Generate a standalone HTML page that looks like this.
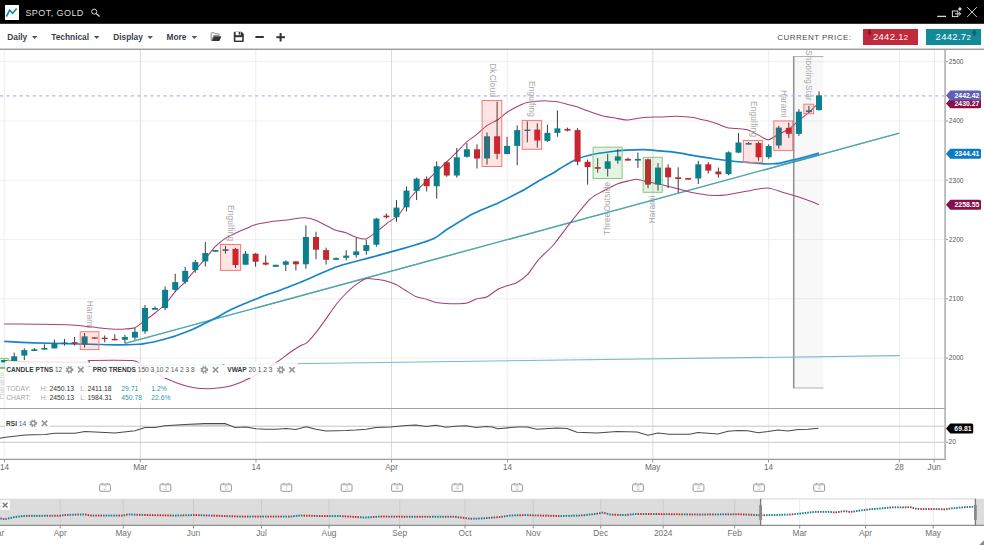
<!DOCTYPE html>
<html lang="en"><head><meta charset="utf-8"><title>SPOT, GOLD</title>
<style>
html,body{margin:0;padding:0;background:#fff}
body{width:984px;height:545px;position:relative;overflow:hidden;font-family:"Liberation Sans",sans-serif}
#tb{position:absolute;left:0;top:0;width:984px;height:23px;background:#000}
#tb .ico{position:absolute;left:4.5px;top:5px;width:14.5px;height:14.5px;background:#fff}
#tb .ttl{position:absolute;left:25.4px;top:6.9px;font-size:9px;line-height:12px;color:#dedede;letter-spacing:.44px;white-space:nowrap}
#bar{position:absolute;left:0;top:23.6px;width:984px;height:26.2px;background:#fff;box-sizing:border-box}
.m{position:absolute;top:31.35px;font-size:8.35px;line-height:12px;font-weight:bold;color:#3b3e52;white-space:nowrap}
.cp{position:absolute;left:777.3px;top:31.6px;font-size:8px;line-height:12px;letter-spacing:.45px;color:#4a4a4a;white-space:nowrap}
.pb{position:absolute;top:28.9px;height:15.7px;color:#fff;font-size:9.5px;line-height:15.8px;letter-spacing:.3px;white-space:nowrap}
.pb small{font-size:7.6px}
</style></head><body>
<svg width="984" height="26" viewBox="0 0 984 26" style="position:absolute;left:0;top:0"><rect x="0" y="0" width="984" height="23.8" fill="#000"/></svg>
<div id="tb"><div class="ico"></div><div class="ttl">SPOT, GOLD</div></div>
<div id="bar"></div>
<div class="m" style="left:7.3px">Daily</div>
<div class="m" style="left:51.2px">Technical</div>
<div class="m" style="left:113.2px">Display</div>
<div class="m" style="left:166.5px">More</div>
<div class="cp">CURRENT PRICE:</div>
<div class="pb" style="left:863.2px;width:54.8px;background:#c12a3c"><span style="position:absolute;left:9.7px">2442.1<small>2</small></span></div>
<div class="pb" style="left:925.9px;width:55px;background:#138a99"><span style="position:absolute;left:9.7px">2442.7<small>2</small></span></div>
<svg width="984" height="50" viewBox="0 0 984 50" style="position:absolute;left:0;top:0">
<rect x="0" y="48.6" width="984" height="1.25" fill="#8e8e8e"/>
<path d="M31.9 36h5.6l-2.8 3.1zM93.9 36h5.6l-2.8 3.1zM147.4 36h5.6l-2.8 3.1zM191.6 36h5.6l-2.8 3.1z" fill="#555"/>
<path d="M6 7.6H17.6M6 9.6H17.6M6 11.6H17.6M6 14.6H17.6M6 17.2H17.6" stroke="#ececec" stroke-width=".6"/><path d="M6.4 16.7L9.6 10.2L12.6 13.2L16.7 8.4" fill="none" stroke="#138a99" stroke-width="1.6"/>
<circle cx="94.2" cy="11.6" r="2.5" fill="none" stroke="#d6d6d6" stroke-width="1"/><path d="M96.1 13.6L99.6 16.6" stroke="#d6d6d6" stroke-width="1.3"/>
<path d="M937.2 16.4H946" stroke="#d8d8d8" stroke-width="1.3"/>
<rect x="952.4" y="11" width="5.4" height="5.6" fill="none" stroke="#d8d8d8" stroke-width="1"/><path d="M955 13.8H960.6M959 12.2L960.8 13.8L959 15.4" fill="none" stroke="#d8d8d8" stroke-width="1"/><path d="M959.9 6.6L960.7 8.3L962.4 9L960.7 9.7L959.9 11.4L959.1 9.7L957.4 9L959.1 8.3Z" fill="#e4e4e4"/>
<path d="M967.2 7.2L976.8 17M976.8 7.2L967.2 17" stroke="#d0d0d0" stroke-width="1"/>
<g fill="#333">
<path d="M211.2 40.6V33.4Q211.2 32.7 211.9 32.7H214.2L215.2 33.8H218.6Q219.2 33.8 219.2 34.5V35.4H213.6L211.9 40.2Z" fill="none" stroke="#7c7c7c" stroke-width=".85"/>
<path d="M213.9 36.2H221.4L219.4 41H211.9Z"/>
<path d="M233.8 32.6Q233.8 31.8 234.6 31.8H241.6L243.8 34V41.2Q243.8 42 243 42H234.6Q233.8 42 233.8 41.2Z"/>
<rect x="235.4" y="37.2" width="6.8" height="3.4" fill="#fff"/><rect x="235.6" y="32" width="5.2" height="3.2" fill="#fff"/><rect x="238.7" y="32" width="1.6" height="2.6" fill="#333"/>
<rect x="255.4" y="36" width="8.4" height="2"/>
<rect x="276.4" y="36.2" width="8.5" height="2"/><rect x="279.6" y="33" width="2" height="8.5"/>
</g>
<path d="M868.3 29.4h2.4v3h1.4l-2.6 3l-2.6-3h1.4z" fill="#8d1626"/>
<path d="M974.4 29.8l2.6 3h-1.4v3h-2.4v-3h-1.4z" fill="#0b5f6b"/>
</svg>
<svg id="chart" width="984" height="545" viewBox="0 0 984 545" style="position:absolute;left:0;top:0" font-family="'Liberation Sans', sans-serif">
<line x1="0" x2="944" y1="61.7" y2="61.7" stroke="#efefef" stroke-width="1"/>
<line x1="0" x2="944" y1="121.0" y2="121.0" stroke="#efefef" stroke-width="1"/>
<line x1="0" x2="944" y1="180.2" y2="180.2" stroke="#efefef" stroke-width="1"/>
<line x1="0" x2="944" y1="239.6" y2="239.6" stroke="#efefef" stroke-width="1"/>
<line x1="0" x2="944" y1="298.8" y2="298.8" stroke="#efefef" stroke-width="1"/>
<line x1="0" x2="944" y1="358.0" y2="358.0" stroke="#efefef" stroke-width="1"/>
<line x1="4.2" x2="4.2" y1="50" y2="459" stroke="#ededed" stroke-width="1"/>
<line x1="140.4" x2="140.4" y1="50" y2="459" stroke="#dbdbdb" stroke-width="1"/>
<line x1="255.8" x2="255.8" y1="50" y2="459" stroke="#ededed" stroke-width="1"/>
<line x1="391.5" x2="391.5" y1="50" y2="459" stroke="#dbdbdb" stroke-width="1"/>
<line x1="507.2" x2="507.2" y1="50" y2="459" stroke="#ededed" stroke-width="1"/>
<line x1="652.9" x2="652.9" y1="50" y2="459" stroke="#dbdbdb" stroke-width="1"/>
<line x1="768.7" x2="768.7" y1="50" y2="459" stroke="#ededed" stroke-width="1"/>
<line x1="899.5" x2="899.5" y1="50" y2="459" stroke="#ededed" stroke-width="1"/>
<line x1="934.4" x2="934.4" y1="50" y2="459" stroke="#e6e6e6" stroke-width="1"/>
<line x1="0" x2="944" y1="426.2" y2="426.2" stroke="#c8c8c8"/>
<line x1="0" x2="944" y1="442.3" y2="442.3" stroke="#c8c8c8"/>
<rect x="794" y="56.5" width="29.5" height="331.5" fill="#000" fill-opacity="0.028"/>
<path d="M823.5 56.5H794.2V388H823.5" fill="none" stroke="#b2b2b2" stroke-width="1"/>
<line x1="793.5" x2="793.5" y1="56" y2="388.5" stroke="#959595" stroke-width="1.15"/>
<line x1="0" x2="944" y1="95.8" y2="95.8" stroke="#b7b4e2" stroke-width="1.3" stroke-dasharray="3.1 3.44"/>
<line x1="0" x2="899.5" y1="367.6" y2="355.6" stroke="#74bccb" stroke-width="1.1"/>
<line x1="125.2" y1="343.4" x2="899.4" y2="133.1" stroke="#178a90" stroke-width="1.4"/>
<line x1="125.2" y1="343.4" x2="899.4" y2="133.1" stroke="#fff" stroke-opacity=".55" stroke-width=".5"/>
<path d="M4.2 323.9C7.4 323.9 26.4 324.1 33.4 324.2C40.4 324.3 61.2 324.5 66.8 324.7C72.4 324.9 79.8 325.5 83.5 325.9C87.2 326.3 96.7 327.7 100.2 328.1C103.7 328.5 112.5 329.1 115.2 329.2C117.9 329.3 122.6 329.2 124.8 329.0C127.0 328.8 132.7 328.7 134.9 327.8C137.1 326.9 142.8 322.1 145.0 320.5C147.2 318.9 152.8 314.8 155.0 313.0C157.2 311.2 162.9 306.9 165.1 304.5C167.3 302.1 172.9 294.3 175.1 291.8C177.3 289.3 182.9 284.2 185.1 281.8C187.3 279.4 192.8 272.7 195.1 270.1C197.4 267.5 203.5 261.0 205.7 258.4C207.9 255.8 213.0 248.9 215.2 246.7C217.4 244.5 222.8 240.0 225.2 238.4C227.6 236.8 234.5 233.6 236.9 232.5C239.3 231.4 245.0 229.1 246.9 228.3C248.8 227.5 251.6 225.7 254.4 225.0C257.2 224.3 268.1 222.2 271.7 221.6C275.3 221.0 283.0 220.3 286.7 219.9C290.4 219.5 301.7 217.7 305.0 217.8C308.3 217.9 313.5 219.4 316.8 220.8C320.1 222.2 331.9 228.7 335.1 230.0C338.3 231.3 342.8 231.7 345.2 232.5C347.6 233.3 354.5 236.8 356.8 237.5C359.1 238.2 363.8 239.5 366.0 238.9C368.2 238.3 374.6 233.4 376.9 231.7C379.2 230.0 384.5 225.3 386.9 223.4C389.3 221.5 395.8 218.0 398.6 215.0C401.4 212.0 409.1 199.6 412.0 196.0C414.9 192.4 421.1 186.3 424.8 182.7C428.5 179.1 441.4 166.9 445.0 163.5C448.6 160.1 454.6 154.2 457.0 151.8C459.4 149.4 464.6 143.7 466.8 141.8C469.0 139.9 474.6 136.1 476.8 134.3C479.0 132.5 484.4 127.3 486.8 125.6C489.2 123.9 496.3 120.7 498.5 119.2C500.7 117.7 504.8 113.9 506.8 112.5C508.8 111.1 514.7 107.8 516.9 106.7C519.1 105.6 524.7 103.1 526.9 102.5C529.1 101.9 534.7 101.4 536.9 101.2C539.1 101.0 544.7 100.8 546.9 100.9C549.1 101.0 554.7 101.3 556.9 101.7C559.1 102.1 564.8 103.6 567.0 104.2C569.2 104.8 575.0 106.1 577.0 106.7C579.0 107.3 582.2 109.0 585.0 110.0C587.8 111.0 598.5 114.9 601.8 115.8C605.1 116.7 612.3 117.5 615.1 118.0C617.9 118.5 623.6 120.1 626.8 120.0C630.0 119.9 639.8 117.8 643.5 117.5C647.2 117.2 656.5 117.1 660.2 117.0C663.9 116.9 673.2 116.2 676.9 116.3C680.6 116.4 691.0 117.2 693.6 117.5C696.2 117.8 698.4 118.8 700.0 119.2C701.6 119.6 706.5 120.4 708.4 120.9C710.3 121.4 714.9 122.9 717.0 123.7C719.1 124.5 725.3 127.2 727.5 127.7C729.7 128.2 734.8 128.4 737.0 128.6C739.2 128.8 745.1 129.1 747.5 129.8C749.9 130.5 756.2 134.0 758.5 135.1C760.8 136.2 765.9 139.9 768.1 139.8C770.3 139.7 776.2 135.5 778.5 134.3C780.8 133.1 786.3 130.8 788.5 129.3C790.7 127.8 796.3 122.8 798.5 120.9C800.7 119.0 806.3 114.6 808.6 112.6C810.9 110.6 817.8 103.6 818.9 102.5" fill="none" stroke="#a53f74" stroke-width="1.05"/>
<path d="M4.2 360.8C6.5 360.9 19.9 361.6 25.0 361.8C30.1 362.0 43.0 362.2 50.0 362.2C57.0 362.2 83.8 362.4 88.2 362.2C92.6 362.0 84.7 360.6 89.6 360.4C94.5 360.2 127.0 360.0 132.6 360.4C138.2 360.8 138.3 363.1 140.2 364.1C142.1 365.1 147.6 368.1 150.0 369.5C152.4 370.9 159.2 375.0 161.6 376.3C164.0 377.6 169.6 380.0 172.0 381.0C174.4 382.0 180.7 384.2 182.9 384.9C185.1 385.6 190.0 386.8 192.0 387.2C194.0 387.6 198.8 388.4 201.2 388.5C203.6 388.6 210.7 388.7 213.4 388.5C216.1 388.3 223.2 387.5 225.6 387.0C228.0 386.5 233.0 385.1 235.0 384.4C237.0 383.7 241.9 381.8 243.9 380.9C245.9 380.0 251.0 377.5 253.0 376.5C255.0 375.5 260.2 373.0 262.2 371.8C264.2 370.6 269.0 367.4 271.0 366.0C273.0 364.6 278.4 361.1 280.5 359.6C282.6 358.1 287.8 354.0 290.0 352.5C292.2 351.0 298.1 347.1 300.0 346.0C301.9 344.9 305.3 344.1 307.3 342.3C309.3 340.5 315.1 333.7 318.4 329.4C321.7 325.1 333.7 307.6 336.7 303.7C339.7 299.8 343.0 296.5 345.0 294.5C347.0 292.5 352.7 287.1 355.0 285.4C357.3 283.7 363.8 279.5 366.0 278.8C368.2 278.1 373.0 279.1 375.0 279.3C377.0 279.5 382.1 280.0 384.4 280.6C386.7 281.2 393.1 283.3 395.4 284.3C397.7 285.3 402.8 288.7 405.0 290.0C407.2 291.3 413.2 295.4 415.6 296.4C418.0 297.4 424.4 298.6 426.6 299.3C428.8 300.0 433.6 302.1 435.8 302.6C438.0 303.1 443.6 303.5 446.0 303.6C448.4 303.7 455.5 303.8 457.8 303.7C460.1 303.6 465.0 303.5 467.0 303.0C469.0 302.5 474.0 299.7 476.2 299.0C478.4 298.3 484.1 298.2 486.5 297.1C488.9 296.0 495.9 290.3 498.2 289.0C500.5 287.7 505.0 286.5 507.0 285.8C509.0 285.1 514.3 284.1 516.6 282.8C518.9 281.5 525.2 277.0 527.6 274.4C530.0 271.8 535.7 263.0 538.6 259.7C541.5 256.4 549.6 249.3 553.3 245.0C557.0 240.7 567.5 226.3 571.6 221.2C575.7 216.1 586.6 202.5 590.0 199.2C593.4 195.9 598.6 193.5 601.8 191.8C605.0 190.1 615.4 184.7 618.5 183.5C621.6 182.3 628.0 181.1 630.0 180.6C632.0 180.1 634.9 179.2 636.8 179.3C638.7 179.4 644.2 181.2 646.8 181.8C649.4 182.4 656.9 183.6 660.2 184.3C663.5 185.0 673.2 187.6 676.9 188.5C680.6 189.4 689.9 192.0 693.6 192.7C697.3 193.4 706.8 194.9 710.3 195.2C713.8 195.5 721.3 195.5 725.4 195.0C729.5 194.5 742.7 191.8 747.4 191.0C752.1 190.2 763.5 187.9 767.6 188.1C771.7 188.3 780.2 191.7 784.1 192.8C788.0 193.9 798.5 197.0 802.4 198.3C806.3 199.6 817.1 203.9 818.9 204.6" fill="none" stroke="#a53f74" stroke-width="1.05"/>
<path d="M4.2 341.4C7.4 341.6 26.4 342.7 33.4 342.9C40.4 343.1 60.3 343.4 66.8 343.6C73.3 343.8 86.2 344.2 91.8 344.3C97.4 344.4 111.7 344.9 116.9 344.9C122.1 344.9 134.9 344.5 138.3 344.3C141.7 344.1 145.5 343.3 147.5 343.0C149.5 342.7 154.7 341.7 156.7 341.2C158.7 340.7 163.9 339.4 165.9 338.8C167.9 338.2 173.0 336.8 175.0 336.1C177.0 335.4 182.2 333.6 184.2 332.8C186.2 332.0 191.4 329.9 193.4 329.0C195.4 328.1 200.6 325.5 202.6 324.5C204.6 323.5 209.7 321.0 211.7 320.0C213.7 319.0 218.9 316.3 220.9 315.2C222.9 314.1 228.1 311.0 230.1 310.0C232.1 309.0 237.3 306.7 239.3 305.8C241.3 304.9 246.4 302.9 248.4 302.1C250.4 301.3 255.6 299.2 257.6 298.4C259.6 297.6 264.8 295.5 266.8 294.8C268.8 294.1 274.0 292.4 276.0 291.7C278.0 291.0 282.4 289.3 285.1 288.3C287.8 287.3 298.0 283.3 300.0 282.5C302.0 281.7 299.3 282.7 303.4 281.0C307.5 279.3 329.4 269.4 336.8 266.8C344.2 264.2 362.8 259.6 370.2 257.6C377.6 255.6 396.5 250.5 403.6 248.4C410.7 246.3 429.2 240.5 434.0 238.4C438.8 236.3 442.5 232.2 446.8 229.5C451.1 226.8 466.8 216.9 472.5 213.9C478.2 210.9 492.9 205.4 498.2 202.9C503.5 200.4 515.8 194.2 520.3 191.8C524.8 189.4 534.9 183.1 538.6 181.0C542.3 178.9 551.2 174.1 553.6 172.7C556.0 171.3 557.4 170.0 560.0 168.5C562.6 167.0 573.0 160.9 576.7 159.3C580.4 157.7 589.7 155.1 593.4 154.3C597.1 153.5 606.4 152.3 610.1 151.8C613.8 151.3 623.1 150.3 626.8 150.1C630.5 149.9 639.8 149.5 643.5 149.6C647.2 149.7 656.5 150.6 660.2 150.9C663.9 151.2 673.2 152.1 676.9 152.6C680.6 153.1 689.9 155.0 693.6 155.6C697.3 156.2 707.7 157.7 710.3 158.1C712.9 158.5 714.1 158.9 716.7 159.3C719.3 159.7 729.7 160.9 733.4 161.3C737.1 161.7 746.4 162.4 750.1 162.7C753.8 163.0 763.6 163.9 766.8 164.0C770.0 164.1 776.1 163.5 778.5 163.2C780.9 162.9 786.1 161.6 788.5 161.0C790.9 160.4 796.8 159.1 800.2 158.2C803.6 157.3 816.8 153.7 818.9 153.1" fill="none" stroke="#1584c9" stroke-width="1.65"/>
<path d="M774 164.2C786 163 802 159 818.9 154.2" fill="none" stroke="#1584c9" stroke-width=".5"/>
<path d="M776 164.6C788 163.8 804 159.8 818.9 155.2" fill="none" stroke="#1584c9" stroke-width=".5"/>
<g>
<line x1="4.1" x2="4.1" y1="359.5" y2="362.3" stroke="#3c3c3c" stroke-width="1"/>
<rect x="1.1" y="360.0" width="6" height="2.3" fill="#0b7f8d"/>
<line x1="14.2" x2="14.2" y1="352.6" y2="361.0" stroke="#3c3c3c" stroke-width="1"/>
<rect x="11.2" y="356.3" width="6" height="4.7" fill="#0b7f8d"/>
<line x1="24.3" x2="24.3" y1="348.4" y2="360.1" stroke="#3c3c3c" stroke-width="1"/>
<rect x="21.3" y="350.1" width="6" height="5.5" fill="#0b7f8d"/>
<line x1="34.3" x2="34.3" y1="348.0" y2="351.0" stroke="#3c3c3c" stroke-width="1"/>
<rect x="31.3" y="349.3" width="6" height="1.7" fill="#0b7f8d"/>
<line x1="44.4" x2="44.4" y1="344.3" y2="349.6" stroke="#3c3c3c" stroke-width="1"/>
<rect x="41.4" y="348.0" width="6" height="1.6" fill="#0b7f8d"/>
<line x1="54.4" x2="54.4" y1="339.6" y2="348.4" stroke="#3c3c3c" stroke-width="1"/>
<rect x="51.4" y="343.1" width="6" height="5.3" fill="#0b7f8d"/>
<line x1="64.5" x2="64.5" y1="338.9" y2="345.6" stroke="#3c3c3c" stroke-width="1"/>
<rect x="61.5" y="342.5" width="6" height="1.4" fill="#0b7f8d"/>
<line x1="74.6" x2="74.6" y1="337.0" y2="345.6" stroke="#3c3c3c" stroke-width="1"/>
<rect x="71.6" y="342.1" width="6" height="1.4" fill="#c5262f"/>
<line x1="84.6" x2="84.6" y1="333.0" y2="347.6" stroke="#3c3c3c" stroke-width="1"/>
<rect x="81.6" y="336.4" width="6" height="7.9" fill="#0b7f8d"/>
<line x1="94.7" x2="94.7" y1="337.3" y2="338.7" stroke="#3c3c3c" stroke-width="1"/>
<rect x="91.7" y="337.3" width="6" height="1.4" fill="#c5262f"/>
<line x1="104.7" x2="104.7" y1="335.4" y2="342.3" stroke="#3c3c3c" stroke-width="1"/>
<rect x="101.7" y="337.7" width="6" height="1.4" fill="#c5262f"/>
<line x1="114.8" x2="114.8" y1="334.3" y2="340.3" stroke="#3c3c3c" stroke-width="1"/>
<rect x="111.8" y="338.9" width="6" height="1.4" fill="#c5262f"/>
<line x1="124.9" x2="124.9" y1="334.8" y2="343.4" stroke="#3c3c3c" stroke-width="1"/>
<rect x="121.9" y="337.0" width="6" height="2.8" fill="#0b7f8d"/>
<line x1="134.9" x2="134.9" y1="328.0" y2="339.8" stroke="#3c3c3c" stroke-width="1"/>
<rect x="131.9" y="331.8" width="6" height="5.8" fill="#0b7f8d"/>
<line x1="145.0" x2="145.0" y1="305.0" y2="333.8" stroke="#3c3c3c" stroke-width="1"/>
<rect x="142.0" y="308.0" width="6" height="23.4" fill="#0b7f8d"/>
<line x1="155.0" x2="155.0" y1="306.5" y2="309.7" stroke="#3c3c3c" stroke-width="1"/>
<rect x="152.0" y="308.0" width="6" height="1.7" fill="#0b7f8d"/>
<line x1="165.1" x2="165.1" y1="286.5" y2="310.2" stroke="#3c3c3c" stroke-width="1"/>
<rect x="162.1" y="289.8" width="6" height="18.2" fill="#0b7f8d"/>
<line x1="175.2" x2="175.2" y1="273.8" y2="291.8" stroke="#3c3c3c" stroke-width="1"/>
<rect x="172.2" y="282.1" width="6" height="7.7" fill="#0b7f8d"/>
<line x1="185.2" x2="185.2" y1="266.8" y2="283.8" stroke="#3c3c3c" stroke-width="1"/>
<rect x="182.2" y="270.9" width="6" height="10.9" fill="#0b7f8d"/>
<line x1="195.3" x2="195.3" y1="260.0" y2="272.6" stroke="#3c3c3c" stroke-width="1"/>
<rect x="192.3" y="262.1" width="6" height="8.0" fill="#0b7f8d"/>
<line x1="205.3" x2="205.3" y1="242.0" y2="266.4" stroke="#3c3c3c" stroke-width="1"/>
<rect x="202.3" y="253.0" width="6" height="8.4" fill="#0b7f8d"/>
<line x1="215.4" x2="215.4" y1="250.0" y2="251.7" stroke="#3c3c3c" stroke-width="1"/>
<rect x="212.4" y="250.0" width="6" height="1.7" fill="#0b7f8d"/>
<line x1="225.5" x2="225.5" y1="245.9" y2="253.7" stroke="#3c3c3c" stroke-width="1"/>
<rect x="222.5" y="249.2" width="6" height="1.7" fill="#0b7f8d"/>
<line x1="235.5" x2="235.5" y1="248.0" y2="268.0" stroke="#3c3c3c" stroke-width="1"/>
<rect x="232.5" y="248.9" width="6" height="16.2" fill="#c5262f"/>
<line x1="245.6" x2="245.6" y1="250.9" y2="264.7" stroke="#3c3c3c" stroke-width="1"/>
<rect x="242.6" y="253.7" width="6" height="11.0" fill="#0b7f8d"/>
<line x1="255.6" x2="255.6" y1="253.0" y2="266.7" stroke="#3c3c3c" stroke-width="1"/>
<rect x="252.6" y="253.7" width="6" height="8.0" fill="#c5262f"/>
<line x1="265.7" x2="265.7" y1="255.4" y2="265.4" stroke="#3c3c3c" stroke-width="1"/>
<rect x="262.7" y="262.6" width="6" height="2.0" fill="#c5262f"/>
<line x1="275.8" x2="275.8" y1="264.8" y2="266.8" stroke="#3c3c3c" stroke-width="1"/>
<rect x="272.8" y="264.8" width="6" height="2.0" fill="#0b7f8d"/>
<line x1="285.8" x2="285.8" y1="260.4" y2="271.0" stroke="#3c3c3c" stroke-width="1"/>
<rect x="282.8" y="261.4" width="6" height="3.4" fill="#0b7f8d"/>
<line x1="295.9" x2="295.9" y1="261.0" y2="270.4" stroke="#3c3c3c" stroke-width="1"/>
<rect x="292.9" y="261.4" width="6" height="2.9" fill="#c5262f"/>
<line x1="305.9" x2="305.9" y1="225.4" y2="268.8" stroke="#3c3c3c" stroke-width="1"/>
<rect x="302.9" y="237.0" width="6" height="27.3" fill="#0b7f8d"/>
<line x1="316.0" x2="316.0" y1="231.7" y2="259.3" stroke="#3c3c3c" stroke-width="1"/>
<rect x="313.0" y="237.0" width="6" height="12.7" fill="#c5262f"/>
<line x1="326.1" x2="326.1" y1="247.6" y2="264.6" stroke="#3c3c3c" stroke-width="1"/>
<rect x="323.1" y="250.1" width="6" height="9.7" fill="#c5262f"/>
<line x1="336.1" x2="336.1" y1="257.3" y2="259.8" stroke="#3c3c3c" stroke-width="1"/>
<rect x="333.1" y="258.1" width="6" height="1.7" fill="#0b7f8d"/>
<line x1="346.2" x2="346.2" y1="250.1" y2="260.4" stroke="#3c3c3c" stroke-width="1"/>
<rect x="343.2" y="255.6" width="6" height="2.2" fill="#0b7f8d"/>
<line x1="356.2" x2="356.2" y1="238.0" y2="257.6" stroke="#3c3c3c" stroke-width="1"/>
<rect x="353.2" y="251.4" width="6" height="3.7" fill="#0b7f8d"/>
<line x1="366.3" x2="366.3" y1="239.7" y2="254.7" stroke="#3c3c3c" stroke-width="1"/>
<rect x="363.3" y="245.1" width="6" height="5.8" fill="#0b7f8d"/>
<line x1="376.4" x2="376.4" y1="217.8" y2="246.7" stroke="#3c3c3c" stroke-width="1"/>
<rect x="373.4" y="218.7" width="6" height="26.0" fill="#0b7f8d"/>
<line x1="386.4" x2="386.4" y1="213.4" y2="218.5" stroke="#3c3c3c" stroke-width="1"/>
<rect x="383.4" y="215.6" width="6" height="1.7" fill="#c5262f"/>
<line x1="396.5" x2="396.5" y1="200.1" y2="221.8" stroke="#3c3c3c" stroke-width="1"/>
<rect x="393.5" y="207.6" width="6" height="9.5" fill="#0b7f8d"/>
<line x1="406.5" x2="406.5" y1="186.4" y2="211.4" stroke="#3c3c3c" stroke-width="1"/>
<rect x="403.5" y="190.6" width="6" height="16.7" fill="#0b7f8d"/>
<line x1="416.6" x2="416.6" y1="177.5" y2="200.1" stroke="#3c3c3c" stroke-width="1"/>
<rect x="413.6" y="178.7" width="6" height="12.2" fill="#0b7f8d"/>
<line x1="426.7" x2="426.7" y1="176.4" y2="191.4" stroke="#3c3c3c" stroke-width="1"/>
<rect x="423.7" y="178.9" width="6" height="7.3" fill="#c5262f"/>
<line x1="436.7" x2="436.7" y1="161.3" y2="198.7" stroke="#3c3c3c" stroke-width="1"/>
<rect x="433.7" y="166.2" width="6" height="20.0" fill="#0b7f8d"/>
<line x1="446.8" x2="446.8" y1="161.5" y2="176.8" stroke="#3c3c3c" stroke-width="1"/>
<rect x="443.8" y="162.3" width="6" height="13.2" fill="#c5262f"/>
<line x1="456.8" x2="456.8" y1="148.0" y2="177.7" stroke="#3c3c3c" stroke-width="1"/>
<rect x="453.8" y="157.3" width="6" height="18.2" fill="#0b7f8d"/>
<line x1="466.9" x2="466.9" y1="143.1" y2="157.6" stroke="#3c3c3c" stroke-width="1"/>
<rect x="463.9" y="149.3" width="6" height="7.5" fill="#0b7f8d"/>
<line x1="477.0" x2="477.0" y1="144.3" y2="168.5" stroke="#3c3c3c" stroke-width="1"/>
<rect x="474.0" y="149.3" width="6" height="9.2" fill="#c5262f"/>
<line x1="487.0" x2="487.0" y1="132.6" y2="164.6" stroke="#3c3c3c" stroke-width="1"/>
<rect x="484.0" y="136.3" width="6" height="22.2" fill="#0b7f8d"/>
<line x1="497.1" x2="497.1" y1="101.7" y2="159.3" stroke="#3c3c3c" stroke-width="1"/>
<rect x="494.1" y="136.3" width="6" height="17.5" fill="#c5262f"/>
<line x1="507.1" x2="507.1" y1="136.8" y2="154.3" stroke="#3c3c3c" stroke-width="1"/>
<rect x="504.1" y="145.9" width="6" height="8.1" fill="#0b7f8d"/>
<line x1="517.2" x2="517.2" y1="125.4" y2="165.2" stroke="#3c3c3c" stroke-width="1"/>
<rect x="514.2" y="130.1" width="6" height="15.8" fill="#0b7f8d"/>
<line x1="527.3" x2="527.3" y1="121.4" y2="142.3" stroke="#3c3c3c" stroke-width="1"/>
<rect x="524.3" y="129.6" width="6" height="1.4" fill="#0b7f8d"/>
<line x1="537.3" x2="537.3" y1="123.4" y2="147.6" stroke="#3c3c3c" stroke-width="1"/>
<rect x="534.3" y="129.6" width="6" height="11.0" fill="#c5262f"/>
<line x1="547.4" x2="547.4" y1="124.7" y2="141.8" stroke="#3c3c3c" stroke-width="1"/>
<rect x="544.4" y="132.9" width="6" height="8.0" fill="#0b7f8d"/>
<line x1="557.4" x2="557.4" y1="110.4" y2="136.8" stroke="#3c3c3c" stroke-width="1"/>
<rect x="554.4" y="128.4" width="6" height="4.5" fill="#0b7f8d"/>
<line x1="567.5" x2="567.5" y1="127.6" y2="131.4" stroke="#3c3c3c" stroke-width="1"/>
<rect x="564.5" y="128.9" width="6" height="1.7" fill="#c5262f"/>
<line x1="577.6" x2="577.6" y1="128.1" y2="165.3" stroke="#3c3c3c" stroke-width="1"/>
<rect x="574.6" y="130.1" width="6" height="31.7" fill="#c5262f"/>
<line x1="587.6" x2="587.6" y1="159.6" y2="184.6" stroke="#3c3c3c" stroke-width="1"/>
<rect x="584.6" y="161.8" width="6" height="5.3" fill="#c5262f"/>
<line x1="597.7" x2="597.7" y1="158.1" y2="172.6" stroke="#3c3c3c" stroke-width="1"/>
<rect x="594.7" y="167.1" width="6" height="1.7" fill="#c5262f"/>
<line x1="607.7" x2="607.7" y1="153.9" y2="176.5" stroke="#3c3c3c" stroke-width="1"/>
<rect x="604.7" y="161.3" width="6" height="7.5" fill="#0b7f8d"/>
<line x1="617.8" x2="617.8" y1="149.2" y2="163.8" stroke="#3c3c3c" stroke-width="1"/>
<rect x="614.8" y="156.4" width="6" height="4.2" fill="#0b7f8d"/>
<line x1="627.9" x2="627.9" y1="157.6" y2="160.6" stroke="#3c3c3c" stroke-width="1"/>
<rect x="624.9" y="158.9" width="6" height="1.7" fill="#c5262f"/>
<line x1="637.9" x2="637.9" y1="152.6" y2="167.9" stroke="#3c3c3c" stroke-width="1"/>
<rect x="634.9" y="158.9" width="6" height="1.7" fill="#0b7f8d"/>
<line x1="648.0" x2="648.0" y1="158.4" y2="188.2" stroke="#3c3c3c" stroke-width="1"/>
<rect x="645.0" y="159.3" width="6" height="25.3" fill="#c5262f"/>
<line x1="658.0" x2="658.0" y1="163.1" y2="190.7" stroke="#3c3c3c" stroke-width="1"/>
<rect x="655.0" y="167.6" width="6" height="17.0" fill="#0b7f8d"/>
<line x1="668.1" x2="668.1" y1="164.3" y2="188.0" stroke="#3c3c3c" stroke-width="1"/>
<rect x="665.1" y="167.6" width="6" height="9.7" fill="#c5262f"/>
<line x1="678.2" x2="678.2" y1="167.3" y2="192.7" stroke="#3c3c3c" stroke-width="1"/>
<rect x="675.2" y="177.3" width="6" height="1.7" fill="#c5262f"/>
<line x1="688.2" x2="688.2" y1="178.0" y2="179.6" stroke="#3c3c3c" stroke-width="1"/>
<rect x="685.2" y="178.0" width="6" height="1.6" fill="#c5262f"/>
<line x1="698.3" x2="698.3" y1="160.9" y2="184.0" stroke="#3c3c3c" stroke-width="1"/>
<rect x="695.3" y="164.3" width="6" height="14.2" fill="#0b7f8d"/>
<line x1="708.3" x2="708.3" y1="162.1" y2="173.5" stroke="#3c3c3c" stroke-width="1"/>
<rect x="705.3" y="164.3" width="6" height="6.3" fill="#c5262f"/>
<line x1="718.4" x2="718.4" y1="167.6" y2="177.6" stroke="#3c3c3c" stroke-width="1"/>
<rect x="715.4" y="171.5" width="6" height="2.8" fill="#c5262f"/>
<line x1="728.5" x2="728.5" y1="151.4" y2="175.2" stroke="#3c3c3c" stroke-width="1"/>
<rect x="725.5" y="152.3" width="6" height="21.8" fill="#0b7f8d"/>
<line x1="738.5" x2="738.5" y1="133.2" y2="153.1" stroke="#3c3c3c" stroke-width="1"/>
<rect x="735.5" y="142.5" width="6" height="10.1" fill="#0b7f8d"/>
<line x1="748.6" x2="748.6" y1="142.2" y2="144.6" stroke="#3c3c3c" stroke-width="1"/>
<rect x="745.6" y="143.0" width="6" height="1.6" fill="#0b7f8d"/>
<line x1="758.6" x2="758.6" y1="141.8" y2="160.7" stroke="#3c3c3c" stroke-width="1"/>
<rect x="755.6" y="143.1" width="6" height="14.2" fill="#c5262f"/>
<line x1="768.7" x2="768.7" y1="144.3" y2="158.8" stroke="#3c3c3c" stroke-width="1"/>
<rect x="765.7" y="146.0" width="6" height="11.2" fill="#0b7f8d"/>
<line x1="778.8" x2="778.8" y1="125.9" y2="148.8" stroke="#3c3c3c" stroke-width="1"/>
<rect x="775.8" y="127.6" width="6" height="17.9" fill="#0b7f8d"/>
<line x1="788.8" x2="788.8" y1="122.6" y2="137.9" stroke="#3c3c3c" stroke-width="1"/>
<rect x="785.8" y="127.9" width="6" height="5.9" fill="#c5262f"/>
<line x1="798.9" x2="798.9" y1="109.2" y2="135.9" stroke="#3c3c3c" stroke-width="1"/>
<rect x="795.9" y="111.7" width="6" height="22.2" fill="#0b7f8d"/>
<line x1="808.9" x2="808.9" y1="105.9" y2="112.6" stroke="#3c3c3c" stroke-width="1"/>
<rect x="805.9" y="110.4" width="6" height="1.7" fill="#0b7f8d"/>
<line x1="819.0" x2="819.0" y1="91.4" y2="110.6" stroke="#3c3c3c" stroke-width="1"/>
<rect x="816.0" y="95.4" width="6" height="14.7" fill="#0b7f8d"/>
</g>
<rect x="80.2" y="331.7" width="18.7" height="17.9" fill="#ff2020" fill-opacity=".12" stroke="#f47a7a" stroke-width="1"/>
<rect x="220.5" y="244.5" width="20.1" height="25.9" fill="#ff2020" fill-opacity=".12" stroke="#f47a7a" stroke-width="1"/>
<rect x="482.1" y="100.5" width="19.7" height="66.0" fill="#ff2020" fill-opacity=".12" stroke="#f47a7a" stroke-width="1"/>
<rect x="522.2" y="120.4" width="19.4" height="28.9" fill="#ff2020" fill-opacity=".12" stroke="#f47a7a" stroke-width="1"/>
<rect x="743.4" y="140.5" width="19.2" height="21.8" fill="#ff2020" fill-opacity=".12" stroke="#f47a7a" stroke-width="1"/>
<rect x="773.8" y="120.9" width="18.9" height="29.7" fill="#ff2020" fill-opacity=".12" stroke="#f47a7a" stroke-width="1"/>
<rect x="803.9" y="104.2" width="9.7" height="9.5" fill="#ff2020" fill-opacity=".12" stroke="#f47a7a" stroke-width="1"/>
<rect x="593.1" y="147.2" width="29.0" height="31.3" fill="#2c9a2c" fill-opacity=".12" stroke="#86c586" stroke-width="1"/>
<rect x="643.2" y="157.3" width="19.0" height="35.0" fill="#2c9a2c" fill-opacity=".12" stroke="#86c586" stroke-width="1"/>
<rect x="-6.0" y="358.4" width="14.2" height="10.2" fill="#2c9a2c" fill-opacity=".12" stroke="#86c586" stroke-width="1"/>
<text transform="translate(87.1 328.4) rotate(90) scale(.92 1)" text-anchor="end" font-size="9" letter-spacing=".2" word-spacing="-1.6" fill="#a8a8a8">Harami</text>
<text transform="translate(228.1 241.2) rotate(90) scale(.92 1)" text-anchor="end" font-size="9" letter-spacing=".2" word-spacing="-1.6" fill="#a8a8a8">Engulfing</text>
<text transform="translate(489.5 97.2) rotate(90) scale(.92 1)" text-anchor="end" font-size="9" letter-spacing=".2" word-spacing="-1.6" fill="#a8a8a8">Dk Cloud</text>
<text transform="translate(529.4 117.1) rotate(90) scale(.92 1)" text-anchor="end" font-size="9" letter-spacing=".2" word-spacing="-1.6" fill="#a8a8a8">Engulfing</text>
<text transform="translate(750.5 137.2) rotate(90) scale(.92 1)" text-anchor="end" font-size="9" letter-spacing=".2" word-spacing="-1.6" fill="#a8a8a8">Engulfing</text>
<text transform="translate(780.8 117.6) rotate(90) scale(.92 1)" text-anchor="end" font-size="9" letter-spacing=".2" word-spacing="-1.6" fill="#a8a8a8">Harami</text>
<text transform="translate(806.2 100.9) rotate(90) scale(.92 1)" text-anchor="end" font-size="9" letter-spacing=".2" word-spacing="-1.6" fill="#a8a8a8">Shooting Star</text>
<text transform="translate(610.1 181.8) rotate(-90) scale(.92 1)" text-anchor="end" font-size="9" letter-spacing=".2" word-spacing="-1.6" fill="#a8a8a8">Three Outside</text>
<text transform="translate(655.2 195.6) rotate(-90) scale(.92 1)" text-anchor="end" font-size="9" letter-spacing=".2" word-spacing="-1.6" fill="#a8a8a8">Harami</text>
<text transform="translate(3.6 371.9) rotate(-90) scale(.92 1)" text-anchor="end" font-size="9" letter-spacing=".2" word-spacing="-1.6" fill="#cfcfcf">Harami</text>
<clipPath id="rc"><rect x="0" y="400" width="944" height="26.2"/></clipPath>
<path d="M0.0 438.2L3.7 437.5L25.0 435.0L45.0 434.5L55.0 433.2L75.0 433.2L85.0 431.5L115.0 433.0L135.0 430.7L145.0 427.5L155.0 427.5L165.0 425.7L185.0 424.5L205.0 423.5L225.0 423.5L235.0 427.5L246.0 427.0L256.0 428.7L266.0 429.2L276.0 429.2L286.0 428.5L296.0 429.5L306.0 426.7L316.0 429.2L326.0 431.0L346.0 430.5L356.0 430.0L366.0 429.2L376.0 427.5L391.0 427.0L406.0 425.5L416.0 425.0L426.0 426.5L436.0 425.2L446.0 427.2L456.0 426.2L466.0 425.7L476.0 427.5L486.0 426.5L492.0 427.0L498.0 428.7L517.0 427.0L527.0 427.0L537.0 429.2L557.0 428.0L567.0 428.5L577.0 432.2L597.0 433.0L617.0 431.5L637.0 432.0L648.0 435.2L658.0 433.0L669.5 434.2L689.5 434.2L698.0 432.5L718.0 434.0L728.0 431.2L738.0 430.5L748.0 430.7L758.0 432.7L768.0 431.5L778.0 430.0L788.0 431.0L798.0 429.5L808.0 429.2L818.5 428.2L818.5 426.2L0 426.2Z" fill="#c9c9c9" clip-path="url(#rc)"/>
<path d="M0.0 438.2L3.7 437.5L25.0 435.0L45.0 434.5L55.0 433.2L75.0 433.2L85.0 431.5L115.0 433.0L135.0 430.7L145.0 427.5L155.0 427.5L165.0 425.7L185.0 424.5L205.0 423.5L225.0 423.5L235.0 427.5L246.0 427.0L256.0 428.7L266.0 429.2L276.0 429.2L286.0 428.5L296.0 429.5L306.0 426.7L316.0 429.2L326.0 431.0L346.0 430.5L356.0 430.0L366.0 429.2L376.0 427.5L391.0 427.0L406.0 425.5L416.0 425.0L426.0 426.5L436.0 425.2L446.0 427.2L456.0 426.2L466.0 425.7L476.0 427.5L486.0 426.5L492.0 427.0L498.0 428.7L517.0 427.0L527.0 427.0L537.0 429.2L557.0 428.0L567.0 428.5L577.0 432.2L597.0 433.0L617.0 431.5L637.0 432.0L648.0 435.2L658.0 433.0L669.5 434.2L689.5 434.2L698.0 432.5L718.0 434.0L728.0 431.2L738.0 430.5L748.0 430.7L758.0 432.7L768.0 431.5L778.0 430.0L788.0 431.0L798.0 429.5L808.0 429.2L818.5 428.2" fill="none" stroke="#4a4a4a" stroke-width="1.1"/>
<rect x="5.0" y="361.1" width="83.6" height="16.9" fill="#fff" fill-opacity=".85"/>
<rect x="90.0" y="362.5" width="132.5" height="15.5" fill="#fff" fill-opacity=".85"/>
<rect x="224.5" y="362.5" width="73.5" height="15.5" fill="#fff" fill-opacity=".85"/>
<rect x="5.0" y="381.0" width="167.0" height="22.0" fill="#fff" fill-opacity=".85"/>
<rect x="5.0" y="417.0" width="45.0" height="13.0" fill="#fff" fill-opacity=".85"/>
<text x="6.2" y="371.7" font-size="6.6" fill="#3a3a3a"><tspan font-weight="bold">CANDLE PTNS</tspan> <tspan fill="#555">12</tspan></text>
<g transform="translate(69.5 369.8)" fill="none" stroke="#969696"><circle r="2.0" stroke-width="1.5"/><circle r="3.2" stroke-width="1.5" stroke-dasharray="1.3 1.3"/></g>
<path d="M78.1 367.1l5.4 5.4m0 -5.4l-5.4 5.4" stroke="#969696" stroke-width="1.6" fill="none"/>
<text x="92.7" y="371.7" font-size="6.6" fill="#3a3a3a"><tspan font-weight="bold">PRO TRENDS</tspan> <tspan fill="#555">150 3 10 2 14 2 3 8</tspan></text>
<g transform="translate(204.2 369.8)" fill="none" stroke="#969696"><circle r="2.0" stroke-width="1.5"/><circle r="3.2" stroke-width="1.5" stroke-dasharray="1.3 1.3"/></g>
<path d="M212.8 367.1l5.4 5.4m0 -5.4l-5.4 5.4" stroke="#969696" stroke-width="1.6" fill="none"/>
<text x="227.3" y="371.7" font-size="6.6" fill="#3a3a3a"><tspan font-weight="bold">VWAP</tspan> <tspan fill="#555">20 1 2 3</tspan></text>
<g transform="translate(280.8 369.8)" fill="none" stroke="#969696"><circle r="2.0" stroke-width="1.5"/><circle r="3.2" stroke-width="1.5" stroke-dasharray="1.3 1.3"/></g>
<path d="M289.3 367.1l5.4 5.4m0 -5.4l-5.4 5.4" stroke="#969696" stroke-width="1.6" fill="none"/>
<text y="390.6" font-size="6.8"><tspan x="6.2" fill="#a8a8a8">TODAY:</tspan><tspan x="40.8" fill="#a8a8a8">H:</tspan><tspan x="49.5" fill="#333">2450.13</tspan><tspan x="80.3" fill="#a8a8a8">L:</tspan><tspan x="87.5" fill="#333">2411.18</tspan><tspan x="121.2" fill="#2a9ab2">29.71</tspan><tspan x="151.3" fill="#2a9ab2">1.2%</tspan></text>
<text y="399.6" font-size="6.8"><tspan x="6.2" fill="#a8a8a8">CHART:</tspan><tspan x="40.8" fill="#a8a8a8">H:</tspan><tspan x="49.5" fill="#333">2450.13</tspan><tspan x="80.3" fill="#a8a8a8">L:</tspan><tspan x="87.5" fill="#333">1984.31</tspan><tspan x="121.2" fill="#2a9ab2">450.78</tspan><tspan x="151.3" fill="#2a9ab2">22.6%</tspan></text>
<text x="6" y="425.6" font-size="6.6" fill="#3a3a3a"><tspan font-weight="bold">RSI</tspan> <tspan fill="#555">14</tspan></text>
<g transform="translate(33.2 423.3)" fill="none" stroke="#969696"><circle r="2.0" stroke-width="1.5"/><circle r="3.2" stroke-width="1.5" stroke-dasharray="1.3 1.3"/></g>
<path d="M41.8 420.6l5.4 5.4m0 -5.4l-5.4 5.4" stroke="#969696" stroke-width="1.6" fill="none"/>
<line x1="0" x2="945" y1="408.4" y2="408.4" stroke="#a2a2a2" stroke-width="1.05"/>
<line x1="0" x2="946" y1="459.3" y2="459.3" stroke="#9a9a9a" stroke-width="1.2"/>
<line x1="945.1" x2="945.1" y1="50" y2="459.8" stroke="#b4b4b4" stroke-width="1.7"/>
<line x1="946" x2="948" y1="61.7" y2="61.7" stroke="#999"/>
<text x="948.8" y="64.1" font-size="6.6" fill="#555">2500</text>
<line x1="946" x2="948" y1="121.0" y2="121.0" stroke="#999"/>
<text x="948.8" y="123.4" font-size="6.6" fill="#555">2400</text>
<line x1="946" x2="948" y1="180.2" y2="180.2" stroke="#999"/>
<text x="948.8" y="182.6" font-size="6.6" fill="#555">2300</text>
<line x1="946" x2="948" y1="239.6" y2="239.6" stroke="#999"/>
<text x="948.8" y="242.0" font-size="6.6" fill="#555">2200</text>
<line x1="946" x2="948" y1="298.8" y2="298.8" stroke="#999"/>
<text x="948.8" y="301.2" font-size="6.6" fill="#555">2100</text>
<line x1="946" x2="948" y1="358.0" y2="358.0" stroke="#999"/>
<text x="948.8" y="360.4" font-size="6.6" fill="#555">2000</text>
<line x1="946" x2="948" y1="442.3" y2="442.3" stroke="#999"/>
<text x="948.6" y="444.1" font-size="6.6" fill="#555">20</text>
<path d="M946 103.6L950.3 98.9H979.5Q981.0 98.9 981.0 100.4V106.8Q981.0 108.3 979.5 108.3H950.3Z" fill="#86104a"/>
<text x="979.4" y="106.1" font-size="6.9" font-weight="bold" fill="#fff" text-anchor="end">2430.27</text>
<path d="M946 95.5L950.3 90.5H979.5Q981.0 90.5 981.0 92.0V99.0Q981.0 100.5 979.5 100.5H950.3Z" fill="#625fb4"/>
<text x="979.4" y="98.0" font-size="6.9" font-weight="bold" fill="#fff" text-anchor="end">2442.42</text>
<path d="M946 153.8L950.3 148.8H979.5Q981.0 148.8 981.0 150.3V157.3Q981.0 158.8 979.5 158.8H950.3Z" fill="#0c7cc0"/>
<text x="979.4" y="156.3" font-size="6.9" font-weight="bold" fill="#fff" text-anchor="end">2344.41</text>
<path d="M946 204.7L950.3 199.7H979.5Q981.0 199.7 981.0 201.2V208.2Q981.0 209.7 979.5 209.7H950.3Z" fill="#86104a"/>
<text x="979.4" y="207.2" font-size="6.9" font-weight="bold" fill="#fff" text-anchor="end">2258.55</text>
<path d="M946 428.5L950.3 423.5H971.7Q973.2 423.5 973.2 425.0V432.0Q973.2 433.5 971.7 433.5H950.3Z" fill="#000"/>
<text x="971.6" y="431.0" font-size="6.9" font-weight="bold" fill="#fff" text-anchor="end">69.81</text>
<line x1="4.6" x2="4.6" y1="459.5" y2="462.5" stroke="#999"/>
<text x="4.6" y="469.6" font-size="8.2" fill="#6a6a6a" text-anchor="middle">14</text>
<line x1="140.3" x2="140.3" y1="459.5" y2="462.5" stroke="#999"/>
<text x="140.3" y="469.6" font-size="8.2" fill="#6a6a6a" text-anchor="middle">Mar</text>
<line x1="256.0" x2="256.0" y1="459.5" y2="462.5" stroke="#999"/>
<text x="256.0" y="469.6" font-size="8.2" fill="#6a6a6a" text-anchor="middle">14</text>
<line x1="391.5" x2="391.5" y1="459.5" y2="462.5" stroke="#999"/>
<text x="391.5" y="469.6" font-size="8.2" fill="#6a6a6a" text-anchor="middle">Apr</text>
<line x1="507.5" x2="507.5" y1="459.5" y2="462.5" stroke="#999"/>
<text x="507.5" y="469.6" font-size="8.2" fill="#6a6a6a" text-anchor="middle">14</text>
<line x1="652.7" x2="652.7" y1="459.5" y2="462.5" stroke="#999"/>
<text x="652.7" y="469.6" font-size="8.2" fill="#6a6a6a" text-anchor="middle">May</text>
<line x1="768.5" x2="768.5" y1="459.5" y2="462.5" stroke="#999"/>
<text x="768.5" y="469.6" font-size="8.2" fill="#6a6a6a" text-anchor="middle">14</text>
<line x1="899.3" x2="899.3" y1="459.5" y2="462.5" stroke="#999"/>
<text x="899.3" y="469.6" font-size="8.2" fill="#6a6a6a" text-anchor="middle">28</text>
<line x1="934.2" x2="934.2" y1="459.5" y2="462.5" stroke="#999"/>
<text x="934.2" y="469.6" font-size="8.2" fill="#6a6a6a" text-anchor="middle">Jun</text>
<g transform="translate(105.0 487.7)"><rect x="-5.4" y="-3.6" width="10.8" height="7.2" rx="1.2" fill="#fff" stroke="#8f8f8f" stroke-width=".9"/><path d="M-2.6 -3.6v-1.2M2.6 -3.6v-1.2" stroke="#8f8f8f" stroke-width=".9"/><path d="M-4.6 -2.3H4.6" stroke="#cfcfcf" stroke-width=".6"/><text y="2.6" font-size="6.4" fill="#c6c6c6" text-anchor="middle">2</text></g>
<g transform="translate(165.4 487.7)"><rect x="-5.4" y="-3.6" width="10.8" height="7.2" rx="1.2" fill="#fff" stroke="#8f8f8f" stroke-width=".9"/><path d="M-2.6 -3.6v-1.2M2.6 -3.6v-1.2" stroke="#8f8f8f" stroke-width=".9"/><path d="M-4.6 -2.3H4.6" stroke="#cfcfcf" stroke-width=".6"/><text y="2.6" font-size="6.4" fill="#c6c6c6" text-anchor="middle">3</text></g>
<g transform="translate(226.0 487.7)"><rect x="-5.4" y="-3.6" width="10.8" height="7.2" rx="1.2" fill="#fff" stroke="#8f8f8f" stroke-width=".9"/><path d="M-2.6 -3.6v-1.2M2.6 -3.6v-1.2" stroke="#8f8f8f" stroke-width=".9"/><path d="M-4.6 -2.3H4.6" stroke="#cfcfcf" stroke-width=".6"/><text y="2.6" font-size="6.4" fill="#c6c6c6" text-anchor="middle">6</text></g>
<g transform="translate(286.4 487.7)"><rect x="-5.4" y="-3.6" width="10.8" height="7.2" rx="1.2" fill="#fff" stroke="#8f8f8f" stroke-width=".9"/><path d="M-2.6 -3.6v-1.2M2.6 -3.6v-1.2" stroke="#8f8f8f" stroke-width=".9"/><path d="M-4.6 -2.3H4.6" stroke="#cfcfcf" stroke-width=".6"/><text y="2.6" font-size="6.4" fill="#c6c6c6" text-anchor="middle">7</text></g>
<g transform="translate(346.6 487.7)"><rect x="-5.4" y="-3.6" width="10.8" height="7.2" rx="1.2" fill="#fff" stroke="#8f8f8f" stroke-width=".9"/><path d="M-2.6 -3.6v-1.2M2.6 -3.6v-1.2" stroke="#8f8f8f" stroke-width=".9"/><path d="M-4.6 -2.3H4.6" stroke="#cfcfcf" stroke-width=".6"/><text y="2.6" font-size="6.4" fill="#c6c6c6" text-anchor="middle">3</text></g>
<g transform="translate(397.0 487.7)"><rect x="-5.4" y="-3.6" width="10.8" height="7.2" rx="1.2" fill="#fff" stroke="#8f8f8f" stroke-width=".9"/><path d="M-2.6 -3.6v-1.2M2.6 -3.6v-1.2" stroke="#8f8f8f" stroke-width=".9"/><path d="M-4.6 -2.3H4.6" stroke="#cfcfcf" stroke-width=".6"/><text y="2.6" font-size="6.4" fill="#c6c6c6" text-anchor="middle">4</text></g>
<g transform="translate(457.4 487.7)"><rect x="-5.4" y="-3.6" width="10.8" height="7.2" rx="1.2" fill="#fff" stroke="#8f8f8f" stroke-width=".9"/><path d="M-2.6 -3.6v-1.2M2.6 -3.6v-1.2" stroke="#8f8f8f" stroke-width=".9"/><path d="M-4.6 -2.3H4.6" stroke="#cfcfcf" stroke-width=".6"/><text y="2.6" font-size="6.4" fill="#c6c6c6" text-anchor="middle">4</text></g>
<g transform="translate(517.0 487.7)"><rect x="-5.4" y="-3.6" width="10.8" height="7.2" rx="1.2" fill="#fff" stroke="#8f8f8f" stroke-width=".9"/><path d="M-2.6 -3.6v-1.2M2.6 -3.6v-1.2" stroke="#8f8f8f" stroke-width=".9"/><path d="M-4.6 -2.3H4.6" stroke="#cfcfcf" stroke-width=".6"/><text y="2.6" font-size="6.4" fill="#c6c6c6" text-anchor="middle">6</text></g>
<g transform="translate(638.0 487.7)"><rect x="-5.4" y="-3.6" width="10.8" height="7.2" rx="1.2" fill="#fff" stroke="#8f8f8f" stroke-width=".9"/><path d="M-2.6 -3.6v-1.2M2.6 -3.6v-1.2" stroke="#8f8f8f" stroke-width=".9"/><path d="M-4.6 -2.3H4.6" stroke="#cfcfcf" stroke-width=".6"/><text y="2.6" font-size="6.4" fill="#c6c6c6" text-anchor="middle">6</text></g>
<g transform="translate(698.5 487.7)"><rect x="-5.4" y="-3.6" width="10.8" height="7.2" rx="1.2" fill="#fff" stroke="#8f8f8f" stroke-width=".9"/><path d="M-2.6 -3.6v-1.2M2.6 -3.6v-1.2" stroke="#8f8f8f" stroke-width=".9"/><path d="M-4.6 -2.3H4.6" stroke="#cfcfcf" stroke-width=".6"/><text y="2.6" font-size="6.4" fill="#c6c6c6" text-anchor="middle">4</text></g>
<g transform="translate(759.0 487.7)"><rect x="-5.4" y="-3.6" width="10.8" height="7.2" rx="1.2" fill="#fff" stroke="#8f8f8f" stroke-width=".9"/><path d="M-2.6 -3.6v-1.2M2.6 -3.6v-1.2" stroke="#8f8f8f" stroke-width=".9"/><path d="M-4.6 -2.3H4.6" stroke="#cfcfcf" stroke-width=".6"/><text y="2.6" font-size="6.4" fill="#c6c6c6" text-anchor="middle">5</text></g>
<g transform="translate(819.2 487.7)"><rect x="-5.4" y="-3.6" width="10.8" height="7.2" rx="1.2" fill="#fff" stroke="#8f8f8f" stroke-width=".9"/><path d="M-2.6 -3.6v-1.2M2.6 -3.6v-1.2" stroke="#8f8f8f" stroke-width=".9"/><path d="M-4.6 -2.3H4.6" stroke="#cfcfcf" stroke-width=".6"/><text y="2.6" font-size="6.4" fill="#c6c6c6" text-anchor="middle">4</text></g>
<rect x="0" y="498.7" width="984" height="26.7" fill="#dcdcdc"/>
<rect x="761" y="499" width="214.5" height="26" fill="#fff"/>
<line x1="761" x2="975.5" y1="499" y2="499" stroke="#dadada"/>
<line x1="-3.0" x2="-3.0" y1="499.3" y2="525" stroke="#cdcdcd"/>
<line x1="60.2" x2="60.2" y1="499.3" y2="525" stroke="#cdcdcd"/>
<line x1="123.3" x2="123.3" y1="499.3" y2="525" stroke="#cdcdcd"/>
<line x1="193.5" x2="193.5" y1="499.3" y2="525" stroke="#cdcdcd"/>
<line x1="261.5" x2="261.5" y1="499.3" y2="525" stroke="#cdcdcd"/>
<line x1="329.0" x2="329.0" y1="499.3" y2="525" stroke="#cdcdcd"/>
<line x1="399.7" x2="399.7" y1="499.3" y2="525" stroke="#cdcdcd"/>
<line x1="465.0" x2="465.0" y1="499.3" y2="525" stroke="#cdcdcd"/>
<line x1="533.2" x2="533.2" y1="499.3" y2="525" stroke="#cdcdcd"/>
<line x1="600.7" x2="600.7" y1="499.3" y2="525" stroke="#cdcdcd"/>
<line x1="663.2" x2="663.2" y1="499.3" y2="525" stroke="#cdcdcd"/>
<line x1="734.7" x2="734.7" y1="499.3" y2="525" stroke="#cdcdcd"/>
<line x1="799.7" x2="799.7" y1="499.3" y2="525" stroke="#ececec"/>
<line x1="865.5" x2="865.5" y1="499.3" y2="525" stroke="#ececec"/>
<line x1="933.2" x2="933.2" y1="499.3" y2="525" stroke="#ececec"/>
<line x1="0" x2="984" y1="525.4" y2="525.4" stroke="#8f8f8f" stroke-width="1.1"/>
<line x1="-3.0" x2="-3.0" y1="525.5" y2="528.5" stroke="#8f8f8f"/>
<text x="-3.0" y="536" font-size="8.3" fill="#707070" text-anchor="middle">Mar</text>
<line x1="60.2" x2="60.2" y1="525.5" y2="528.5" stroke="#8f8f8f"/>
<text x="60.2" y="536" font-size="8.3" fill="#707070" text-anchor="middle">Apr</text>
<line x1="123.3" x2="123.3" y1="525.5" y2="528.5" stroke="#8f8f8f"/>
<text x="123.3" y="536" font-size="8.3" fill="#707070" text-anchor="middle">May</text>
<line x1="193.5" x2="193.5" y1="525.5" y2="528.5" stroke="#8f8f8f"/>
<text x="193.5" y="536" font-size="8.3" fill="#707070" text-anchor="middle">Jun</text>
<line x1="261.5" x2="261.5" y1="525.5" y2="528.5" stroke="#8f8f8f"/>
<text x="261.5" y="536" font-size="8.3" fill="#707070" text-anchor="middle">Jul</text>
<line x1="329.0" x2="329.0" y1="525.5" y2="528.5" stroke="#8f8f8f"/>
<text x="329.0" y="536" font-size="8.3" fill="#707070" text-anchor="middle">Aug</text>
<line x1="399.7" x2="399.7" y1="525.5" y2="528.5" stroke="#8f8f8f"/>
<text x="399.7" y="536" font-size="8.3" fill="#707070" text-anchor="middle">Sep</text>
<line x1="465.0" x2="465.0" y1="525.5" y2="528.5" stroke="#8f8f8f"/>
<text x="465.0" y="536" font-size="8.3" fill="#707070" text-anchor="middle">Oct</text>
<line x1="533.2" x2="533.2" y1="525.5" y2="528.5" stroke="#8f8f8f"/>
<text x="533.2" y="536" font-size="8.3" fill="#707070" text-anchor="middle">Nov</text>
<line x1="600.7" x2="600.7" y1="525.5" y2="528.5" stroke="#8f8f8f"/>
<text x="600.7" y="536" font-size="8.3" fill="#707070" text-anchor="middle">Dec</text>
<line x1="663.2" x2="663.2" y1="525.5" y2="528.5" stroke="#8f8f8f"/>
<text x="663.2" y="536" font-size="8.3" fill="#707070" text-anchor="middle">2024</text>
<line x1="734.7" x2="734.7" y1="525.5" y2="528.5" stroke="#8f8f8f"/>
<text x="734.7" y="536" font-size="8.3" fill="#707070" text-anchor="middle">Feb</text>
<line x1="799.7" x2="799.7" y1="525.5" y2="528.5" stroke="#8f8f8f"/>
<text x="799.7" y="536" font-size="8.3" fill="#707070" text-anchor="middle">Mar</text>
<line x1="865.5" x2="865.5" y1="525.5" y2="528.5" stroke="#8f8f8f"/>
<text x="865.5" y="536" font-size="8.3" fill="#707070" text-anchor="middle">Apr</text>
<line x1="933.2" x2="933.2" y1="525.5" y2="528.5" stroke="#8f8f8f"/>
<text x="933.2" y="536" font-size="8.3" fill="#707070" text-anchor="middle">May</text>
<g>
<rect x="0.25" y="517.6" width="1.5" height="1.9" fill="#0b7f8d"/>
<rect x="2.82" y="518.0" width="1.5" height="1.9" fill="#c5262f"/>
<rect x="5.39" y="518.0" width="1.5" height="1.9" fill="#0b7f8d"/>
<rect x="7.96" y="517.4" width="1.5" height="1.9" fill="#0b7f8d"/>
<rect x="10.53" y="516.8" width="1.5" height="1.9" fill="#0b7f8d"/>
<rect x="13.10" y="516.3" width="1.5" height="1.9" fill="#0b7f8d"/>
<rect x="15.67" y="515.9" width="1.5" height="1.9" fill="#0b7f8d"/>
<rect x="18.24" y="515.6" width="1.5" height="1.9" fill="#0b7f8d"/>
<rect x="20.81" y="515.3" width="1.5" height="1.9" fill="#0b7f8d"/>
<rect x="23.38" y="515.0" width="1.5" height="1.9" fill="#0b7f8d"/>
<rect x="25.95" y="514.9" width="1.5" height="1.9" fill="#0b7f8d"/>
<rect x="28.52" y="514.9" width="1.5" height="1.9" fill="#c5262f"/>
<rect x="31.09" y="514.9" width="1.5" height="1.9" fill="#0b7f8d"/>
<rect x="33.66" y="514.9" width="1.5" height="1.9" fill="#0b7f8d"/>
<rect x="36.23" y="514.9" width="1.5" height="1.9" fill="#0b7f8d"/>
<rect x="38.80" y="514.9" width="1.5" height="1.9" fill="#0b7f8d"/>
<rect x="41.37" y="514.9" width="1.5" height="1.9" fill="#0b7f8d"/>
<rect x="43.94" y="514.8" width="1.5" height="1.9" fill="#c5262f"/>
<rect x="46.51" y="514.8" width="1.5" height="1.9" fill="#0b7f8d"/>
<rect x="49.08" y="514.8" width="1.5" height="1.9" fill="#c5262f"/>
<rect x="51.65" y="514.8" width="1.5" height="1.9" fill="#0b7f8d"/>
<rect x="54.22" y="514.8" width="1.5" height="1.9" fill="#c5262f"/>
<rect x="56.79" y="514.8" width="1.5" height="1.9" fill="#c5262f"/>
<rect x="59.36" y="514.8" width="1.5" height="1.9" fill="#c5262f"/>
<rect x="61.93" y="514.4" width="1.5" height="1.9" fill="#0b7f8d"/>
<rect x="64.50" y="514.1" width="1.5" height="1.9" fill="#c5262f"/>
<rect x="67.07" y="514.0" width="1.5" height="1.9" fill="#0b7f8d"/>
<rect x="69.64" y="513.9" width="1.5" height="1.9" fill="#0b7f8d"/>
<rect x="72.21" y="513.8" width="1.5" height="1.9" fill="#0b7f8d"/>
<rect x="74.78" y="513.7" width="1.5" height="1.9" fill="#c5262f"/>
<rect x="77.35" y="513.6" width="1.5" height="1.9" fill="#0b7f8d"/>
<rect x="79.92" y="513.6" width="1.5" height="1.9" fill="#0b7f8d"/>
<rect x="82.49" y="513.5" width="1.5" height="1.9" fill="#0b7f8d"/>
<rect x="85.06" y="513.6" width="1.5" height="1.9" fill="#c5262f"/>
<rect x="87.63" y="514.2" width="1.5" height="1.9" fill="#c5262f"/>
<rect x="90.20" y="514.6" width="1.5" height="1.9" fill="#c5262f"/>
<rect x="92.77" y="514.6" width="1.5" height="1.9" fill="#0b7f8d"/>
<rect x="95.34" y="514.6" width="1.5" height="1.9" fill="#c5262f"/>
<rect x="97.91" y="514.6" width="1.5" height="1.9" fill="#c5262f"/>
<rect x="100.48" y="514.6" width="1.5" height="1.9" fill="#c5262f"/>
<rect x="103.05" y="514.6" width="1.5" height="1.9" fill="#0b7f8d"/>
<rect x="105.62" y="514.6" width="1.5" height="1.9" fill="#0b7f8d"/>
<rect x="108.19" y="514.6" width="1.5" height="1.9" fill="#0b7f8d"/>
<rect x="110.76" y="514.6" width="1.5" height="1.9" fill="#0b7f8d"/>
<rect x="113.33" y="514.6" width="1.5" height="1.9" fill="#0b7f8d"/>
<rect x="115.90" y="514.6" width="1.5" height="1.9" fill="#0b7f8d"/>
<rect x="118.47" y="514.6" width="1.5" height="1.9" fill="#c5262f"/>
<rect x="121.04" y="514.6" width="1.5" height="1.9" fill="#c5262f"/>
<rect x="123.61" y="514.3" width="1.5" height="1.9" fill="#0b7f8d"/>
<rect x="126.18" y="513.7" width="1.5" height="1.9" fill="#c5262f"/>
<rect x="128.75" y="513.5" width="1.5" height="1.9" fill="#0b7f8d"/>
<rect x="131.32" y="513.6" width="1.5" height="1.9" fill="#0b7f8d"/>
<rect x="133.89" y="513.7" width="1.5" height="1.9" fill="#0b7f8d"/>
<rect x="136.46" y="513.8" width="1.5" height="1.9" fill="#c5262f"/>
<rect x="139.03" y="513.9" width="1.5" height="1.9" fill="#c5262f"/>
<rect x="141.60" y="513.9" width="1.5" height="1.9" fill="#0b7f8d"/>
<rect x="144.17" y="514.0" width="1.5" height="1.9" fill="#c5262f"/>
<rect x="146.74" y="514.1" width="1.5" height="1.9" fill="#c5262f"/>
<rect x="149.31" y="514.1" width="1.5" height="1.9" fill="#c5262f"/>
<rect x="151.88" y="514.2" width="1.5" height="1.9" fill="#c5262f"/>
<rect x="154.45" y="514.2" width="1.5" height="1.9" fill="#c5262f"/>
<rect x="157.02" y="514.3" width="1.5" height="1.9" fill="#c5262f"/>
<rect x="159.59" y="514.3" width="1.5" height="1.9" fill="#c5262f"/>
<rect x="162.16" y="514.4" width="1.5" height="1.9" fill="#c5262f"/>
<rect x="164.73" y="514.4" width="1.5" height="1.9" fill="#c5262f"/>
<rect x="167.30" y="514.5" width="1.5" height="1.9" fill="#c5262f"/>
<rect x="169.87" y="514.5" width="1.5" height="1.9" fill="#c5262f"/>
<rect x="172.44" y="514.6" width="1.5" height="1.9" fill="#0b7f8d"/>
<rect x="175.01" y="514.6" width="1.5" height="1.9" fill="#0b7f8d"/>
<rect x="177.58" y="514.5" width="1.5" height="1.9" fill="#0b7f8d"/>
<rect x="180.15" y="514.5" width="1.5" height="1.9" fill="#0b7f8d"/>
<rect x="182.72" y="514.4" width="1.5" height="1.9" fill="#c5262f"/>
<rect x="185.29" y="514.3" width="1.5" height="1.9" fill="#0b7f8d"/>
<rect x="187.86" y="514.3" width="1.5" height="1.9" fill="#0b7f8d"/>
<rect x="190.43" y="514.2" width="1.5" height="1.9" fill="#0b7f8d"/>
<rect x="193.00" y="514.1" width="1.5" height="1.9" fill="#c5262f"/>
<rect x="195.57" y="514.1" width="1.5" height="1.9" fill="#c5262f"/>
<rect x="198.14" y="514.2" width="1.5" height="1.9" fill="#c5262f"/>
<rect x="200.71" y="514.3" width="1.5" height="1.9" fill="#0b7f8d"/>
<rect x="203.28" y="514.4" width="1.5" height="1.9" fill="#0b7f8d"/>
<rect x="205.85" y="514.5" width="1.5" height="1.9" fill="#c5262f"/>
<rect x="208.42" y="514.6" width="1.5" height="1.9" fill="#0b7f8d"/>
<rect x="210.99" y="514.7" width="1.5" height="1.9" fill="#c5262f"/>
<rect x="213.56" y="514.7" width="1.5" height="1.9" fill="#c5262f"/>
<rect x="216.13" y="514.8" width="1.5" height="1.9" fill="#c5262f"/>
<rect x="218.70" y="514.9" width="1.5" height="1.9" fill="#c5262f"/>
<rect x="221.27" y="515.0" width="1.5" height="1.9" fill="#c5262f"/>
<rect x="223.84" y="515.1" width="1.5" height="1.9" fill="#c5262f"/>
<rect x="226.41" y="515.2" width="1.5" height="1.9" fill="#c5262f"/>
<rect x="228.98" y="515.3" width="1.5" height="1.9" fill="#0b7f8d"/>
<rect x="231.55" y="515.3" width="1.5" height="1.9" fill="#c5262f"/>
<rect x="234.12" y="515.4" width="1.5" height="1.9" fill="#c5262f"/>
<rect x="236.69" y="515.5" width="1.5" height="1.9" fill="#c5262f"/>
<rect x="239.26" y="515.6" width="1.5" height="1.9" fill="#0b7f8d"/>
<rect x="241.83" y="515.6" width="1.5" height="1.9" fill="#c5262f"/>
<rect x="244.40" y="515.6" width="1.5" height="1.9" fill="#c5262f"/>
<rect x="246.97" y="515.6" width="1.5" height="1.9" fill="#c5262f"/>
<rect x="249.54" y="515.6" width="1.5" height="1.9" fill="#0b7f8d"/>
<rect x="252.11" y="515.6" width="1.5" height="1.9" fill="#0b7f8d"/>
<rect x="254.68" y="515.6" width="1.5" height="1.9" fill="#c5262f"/>
<rect x="257.25" y="515.6" width="1.5" height="1.9" fill="#c5262f"/>
<rect x="259.82" y="515.6" width="1.5" height="1.9" fill="#c5262f"/>
<rect x="262.39" y="515.6" width="1.5" height="1.9" fill="#0b7f8d"/>
<rect x="264.96" y="515.6" width="1.5" height="1.9" fill="#0b7f8d"/>
<rect x="267.53" y="515.6" width="1.5" height="1.9" fill="#c5262f"/>
<rect x="270.10" y="515.6" width="1.5" height="1.9" fill="#c5262f"/>
<rect x="272.67" y="515.6" width="1.5" height="1.9" fill="#c5262f"/>
<rect x="275.24" y="515.6" width="1.5" height="1.9" fill="#0b7f8d"/>
<rect x="277.81" y="515.6" width="1.5" height="1.9" fill="#c5262f"/>
<rect x="280.38" y="515.6" width="1.5" height="1.9" fill="#c5262f"/>
<rect x="282.95" y="515.6" width="1.5" height="1.9" fill="#0b7f8d"/>
<rect x="285.52" y="515.6" width="1.5" height="1.9" fill="#0b7f8d"/>
<rect x="288.09" y="515.6" width="1.5" height="1.9" fill="#c5262f"/>
<rect x="290.66" y="515.5" width="1.5" height="1.9" fill="#0b7f8d"/>
<rect x="293.23" y="515.2" width="1.5" height="1.9" fill="#0b7f8d"/>
<rect x="295.80" y="514.9" width="1.5" height="1.9" fill="#0b7f8d"/>
<rect x="298.37" y="514.7" width="1.5" height="1.9" fill="#0b7f8d"/>
<rect x="300.94" y="514.6" width="1.5" height="1.9" fill="#0b7f8d"/>
<rect x="303.51" y="514.7" width="1.5" height="1.9" fill="#c5262f"/>
<rect x="306.08" y="514.8" width="1.5" height="1.9" fill="#c5262f"/>
<rect x="308.65" y="514.8" width="1.5" height="1.9" fill="#c5262f"/>
<rect x="311.22" y="514.9" width="1.5" height="1.9" fill="#c5262f"/>
<rect x="313.79" y="515.0" width="1.5" height="1.9" fill="#c5262f"/>
<rect x="316.36" y="515.0" width="1.5" height="1.9" fill="#0b7f8d"/>
<rect x="318.93" y="515.1" width="1.5" height="1.9" fill="#c5262f"/>
<rect x="321.50" y="515.1" width="1.5" height="1.9" fill="#c5262f"/>
<rect x="324.07" y="515.1" width="1.5" height="1.9" fill="#c5262f"/>
<rect x="326.64" y="515.1" width="1.5" height="1.9" fill="#c5262f"/>
<rect x="329.21" y="515.1" width="1.5" height="1.9" fill="#0b7f8d"/>
<rect x="331.78" y="515.1" width="1.5" height="1.9" fill="#0b7f8d"/>
<rect x="334.35" y="515.1" width="1.5" height="1.9" fill="#0b7f8d"/>
<rect x="336.92" y="515.1" width="1.5" height="1.9" fill="#0b7f8d"/>
<rect x="339.49" y="515.1" width="1.5" height="1.9" fill="#0b7f8d"/>
<rect x="342.06" y="515.3" width="1.5" height="1.9" fill="#c5262f"/>
<rect x="344.63" y="515.4" width="1.5" height="1.9" fill="#c5262f"/>
<rect x="347.20" y="515.6" width="1.5" height="1.9" fill="#c5262f"/>
<rect x="349.77" y="515.7" width="1.5" height="1.9" fill="#c5262f"/>
<rect x="352.34" y="515.9" width="1.5" height="1.9" fill="#c5262f"/>
<rect x="354.91" y="516.0" width="1.5" height="1.9" fill="#c5262f"/>
<rect x="357.48" y="516.2" width="1.5" height="1.9" fill="#c5262f"/>
<rect x="360.05" y="516.3" width="1.5" height="1.9" fill="#0b7f8d"/>
<rect x="362.62" y="516.5" width="1.5" height="1.9" fill="#0b7f8d"/>
<rect x="365.19" y="516.5" width="1.5" height="1.9" fill="#0b7f8d"/>
<rect x="367.76" y="516.4" width="1.5" height="1.9" fill="#0b7f8d"/>
<rect x="370.33" y="516.2" width="1.5" height="1.9" fill="#0b7f8d"/>
<rect x="372.90" y="516.0" width="1.5" height="1.9" fill="#c5262f"/>
<rect x="375.47" y="515.9" width="1.5" height="1.9" fill="#0b7f8d"/>
<rect x="378.04" y="515.7" width="1.5" height="1.9" fill="#0b7f8d"/>
<rect x="380.61" y="515.6" width="1.5" height="1.9" fill="#c5262f"/>
<rect x="383.18" y="515.6" width="1.5" height="1.9" fill="#c5262f"/>
<rect x="385.75" y="515.6" width="1.5" height="1.9" fill="#c5262f"/>
<rect x="388.32" y="515.7" width="1.5" height="1.9" fill="#c5262f"/>
<rect x="390.89" y="515.7" width="1.5" height="1.9" fill="#0b7f8d"/>
<rect x="393.46" y="515.7" width="1.5" height="1.9" fill="#c5262f"/>
<rect x="396.03" y="515.7" width="1.5" height="1.9" fill="#c5262f"/>
<rect x="398.60" y="515.7" width="1.5" height="1.9" fill="#c5262f"/>
<rect x="401.17" y="515.7" width="1.5" height="1.9" fill="#c5262f"/>
<rect x="403.74" y="515.8" width="1.5" height="1.9" fill="#c5262f"/>
<rect x="406.31" y="515.8" width="1.5" height="1.9" fill="#0b7f8d"/>
<rect x="408.88" y="515.8" width="1.5" height="1.9" fill="#c5262f"/>
<rect x="411.45" y="515.8" width="1.5" height="1.9" fill="#0b7f8d"/>
<rect x="414.02" y="515.8" width="1.5" height="1.9" fill="#0b7f8d"/>
<rect x="416.59" y="515.8" width="1.5" height="1.9" fill="#c5262f"/>
<rect x="419.16" y="515.8" width="1.5" height="1.9" fill="#c5262f"/>
<rect x="421.73" y="515.8" width="1.5" height="1.9" fill="#c5262f"/>
<rect x="424.30" y="515.8" width="1.5" height="1.9" fill="#c5262f"/>
<rect x="426.87" y="515.8" width="1.5" height="1.9" fill="#0b7f8d"/>
<rect x="429.44" y="515.8" width="1.5" height="1.9" fill="#c5262f"/>
<rect x="432.01" y="515.8" width="1.5" height="1.9" fill="#0b7f8d"/>
<rect x="434.58" y="515.8" width="1.5" height="1.9" fill="#0b7f8d"/>
<rect x="437.15" y="515.8" width="1.5" height="1.9" fill="#0b7f8d"/>
<rect x="439.72" y="515.8" width="1.5" height="1.9" fill="#0b7f8d"/>
<rect x="442.29" y="515.8" width="1.5" height="1.9" fill="#0b7f8d"/>
<rect x="444.86" y="515.8" width="1.5" height="1.9" fill="#c5262f"/>
<rect x="447.43" y="515.8" width="1.5" height="1.9" fill="#0b7f8d"/>
<rect x="450.00" y="515.8" width="1.5" height="1.9" fill="#c5262f"/>
<rect x="452.57" y="515.8" width="1.5" height="1.9" fill="#0b7f8d"/>
<rect x="455.14" y="515.9" width="1.5" height="1.9" fill="#c5262f"/>
<rect x="457.71" y="516.3" width="1.5" height="1.9" fill="#0b7f8d"/>
<rect x="460.28" y="516.6" width="1.5" height="1.9" fill="#c5262f"/>
<rect x="462.85" y="516.9" width="1.5" height="1.9" fill="#c5262f"/>
<rect x="465.42" y="517.3" width="1.5" height="1.9" fill="#c5262f"/>
<rect x="467.99" y="517.6" width="1.5" height="1.9" fill="#0b7f8d"/>
<rect x="470.56" y="517.8" width="1.5" height="1.9" fill="#c5262f"/>
<rect x="473.13" y="517.7" width="1.5" height="1.9" fill="#0b7f8d"/>
<rect x="475.70" y="517.7" width="1.5" height="1.9" fill="#0b7f8d"/>
<rect x="478.27" y="517.6" width="1.5" height="1.9" fill="#0b7f8d"/>
<rect x="480.84" y="517.5" width="1.5" height="1.9" fill="#0b7f8d"/>
<rect x="483.41" y="517.3" width="1.5" height="1.9" fill="#0b7f8d"/>
<rect x="485.98" y="517.1" width="1.5" height="1.9" fill="#c5262f"/>
<rect x="488.55" y="516.9" width="1.5" height="1.9" fill="#0b7f8d"/>
<rect x="491.12" y="516.7" width="1.5" height="1.9" fill="#0b7f8d"/>
<rect x="493.69" y="516.5" width="1.5" height="1.9" fill="#c5262f"/>
<rect x="496.26" y="516.3" width="1.5" height="1.9" fill="#c5262f"/>
<rect x="498.83" y="516.1" width="1.5" height="1.9" fill="#0b7f8d"/>
<rect x="501.40" y="515.8" width="1.5" height="1.9" fill="#c5262f"/>
<rect x="503.97" y="515.4" width="1.5" height="1.9" fill="#0b7f8d"/>
<rect x="506.54" y="515.0" width="1.5" height="1.9" fill="#0b7f8d"/>
<rect x="509.11" y="514.6" width="1.5" height="1.9" fill="#0b7f8d"/>
<rect x="511.68" y="514.5" width="1.5" height="1.9" fill="#0b7f8d"/>
<rect x="514.25" y="514.4" width="1.5" height="1.9" fill="#0b7f8d"/>
<rect x="516.82" y="514.3" width="1.5" height="1.9" fill="#0b7f8d"/>
<rect x="519.39" y="514.3" width="1.5" height="1.9" fill="#c5262f"/>
<rect x="521.96" y="514.2" width="1.5" height="1.9" fill="#c5262f"/>
<rect x="524.53" y="514.1" width="1.5" height="1.9" fill="#0b7f8d"/>
<rect x="527.10" y="514.2" width="1.5" height="1.9" fill="#0b7f8d"/>
<rect x="529.67" y="514.3" width="1.5" height="1.9" fill="#c5262f"/>
<rect x="532.24" y="514.4" width="1.5" height="1.9" fill="#c5262f"/>
<rect x="534.81" y="514.5" width="1.5" height="1.9" fill="#0b7f8d"/>
<rect x="537.38" y="514.5" width="1.5" height="1.9" fill="#c5262f"/>
<rect x="539.95" y="514.6" width="1.5" height="1.9" fill="#c5262f"/>
<rect x="542.52" y="514.7" width="1.5" height="1.9" fill="#c5262f"/>
<rect x="545.09" y="514.7" width="1.5" height="1.9" fill="#c5262f"/>
<rect x="547.66" y="514.8" width="1.5" height="1.9" fill="#c5262f"/>
<rect x="550.23" y="514.9" width="1.5" height="1.9" fill="#c5262f"/>
<rect x="552.80" y="514.9" width="1.5" height="1.9" fill="#c5262f"/>
<rect x="555.37" y="515.0" width="1.5" height="1.9" fill="#c5262f"/>
<rect x="557.94" y="515.1" width="1.5" height="1.9" fill="#c5262f"/>
<rect x="560.51" y="515.1" width="1.5" height="1.9" fill="#0b7f8d"/>
<rect x="563.08" y="515.0" width="1.5" height="1.9" fill="#0b7f8d"/>
<rect x="565.65" y="514.9" width="1.5" height="1.9" fill="#0b7f8d"/>
<rect x="568.22" y="514.9" width="1.5" height="1.9" fill="#0b7f8d"/>
<rect x="570.79" y="514.8" width="1.5" height="1.9" fill="#0b7f8d"/>
<rect x="573.36" y="514.7" width="1.5" height="1.9" fill="#0b7f8d"/>
<rect x="575.93" y="514.7" width="1.5" height="1.9" fill="#0b7f8d"/>
<rect x="578.50" y="514.6" width="1.5" height="1.9" fill="#0b7f8d"/>
<rect x="581.07" y="514.4" width="1.5" height="1.9" fill="#c5262f"/>
<rect x="583.64" y="514.2" width="1.5" height="1.9" fill="#0b7f8d"/>
<rect x="586.21" y="513.9" width="1.5" height="1.9" fill="#0b7f8d"/>
<rect x="588.78" y="513.6" width="1.5" height="1.9" fill="#0b7f8d"/>
<rect x="591.35" y="513.4" width="1.5" height="1.9" fill="#0b7f8d"/>
<rect x="593.92" y="513.1" width="1.5" height="1.9" fill="#0b7f8d"/>
<rect x="596.49" y="512.7" width="1.5" height="1.9" fill="#c5262f"/>
<rect x="599.06" y="512.2" width="1.5" height="1.9" fill="#0b7f8d"/>
<rect x="601.63" y="511.7" width="1.5" height="1.9" fill="#0b7f8d"/>
<rect x="604.20" y="512.2" width="1.5" height="1.9" fill="#c5262f"/>
<rect x="606.77" y="512.9" width="1.5" height="1.9" fill="#0b7f8d"/>
<rect x="609.34" y="513.6" width="1.5" height="1.9" fill="#0b7f8d"/>
<rect x="611.91" y="513.7" width="1.5" height="1.9" fill="#c5262f"/>
<rect x="614.48" y="513.8" width="1.5" height="1.9" fill="#c5262f"/>
<rect x="617.05" y="513.9" width="1.5" height="1.9" fill="#c5262f"/>
<rect x="619.62" y="513.9" width="1.5" height="1.9" fill="#0b7f8d"/>
<rect x="622.19" y="514.0" width="1.5" height="1.9" fill="#0b7f8d"/>
<rect x="624.76" y="514.0" width="1.5" height="1.9" fill="#0b7f8d"/>
<rect x="627.33" y="513.8" width="1.5" height="1.9" fill="#c5262f"/>
<rect x="629.90" y="513.5" width="1.5" height="1.9" fill="#0b7f8d"/>
<rect x="632.47" y="513.3" width="1.5" height="1.9" fill="#0b7f8d"/>
<rect x="635.04" y="513.1" width="1.5" height="1.9" fill="#0b7f8d"/>
<rect x="637.61" y="513.1" width="1.5" height="1.9" fill="#c5262f"/>
<rect x="640.18" y="513.1" width="1.5" height="1.9" fill="#c5262f"/>
<rect x="642.75" y="513.1" width="1.5" height="1.9" fill="#0b7f8d"/>
<rect x="645.32" y="513.1" width="1.5" height="1.9" fill="#c5262f"/>
<rect x="647.89" y="513.1" width="1.5" height="1.9" fill="#c5262f"/>
<rect x="650.46" y="513.1" width="1.5" height="1.9" fill="#c5262f"/>
<rect x="653.03" y="513.1" width="1.5" height="1.9" fill="#0b7f8d"/>
<rect x="655.60" y="513.1" width="1.5" height="1.9" fill="#c5262f"/>
<rect x="658.17" y="513.1" width="1.5" height="1.9" fill="#c5262f"/>
<rect x="660.74" y="513.2" width="1.5" height="1.9" fill="#c5262f"/>
<rect x="663.31" y="513.2" width="1.5" height="1.9" fill="#c5262f"/>
<rect x="665.88" y="513.2" width="1.5" height="1.9" fill="#0b7f8d"/>
<rect x="668.45" y="513.2" width="1.5" height="1.9" fill="#c5262f"/>
<rect x="671.02" y="513.3" width="1.5" height="1.9" fill="#c5262f"/>
<rect x="673.59" y="513.3" width="1.5" height="1.9" fill="#c5262f"/>
<rect x="676.16" y="513.3" width="1.5" height="1.9" fill="#c5262f"/>
<rect x="678.73" y="513.4" width="1.5" height="1.9" fill="#c5262f"/>
<rect x="681.30" y="513.4" width="1.5" height="1.9" fill="#c5262f"/>
<rect x="683.87" y="513.4" width="1.5" height="1.9" fill="#0b7f8d"/>
<rect x="686.44" y="513.5" width="1.5" height="1.9" fill="#0b7f8d"/>
<rect x="689.01" y="513.5" width="1.5" height="1.9" fill="#c5262f"/>
<rect x="691.58" y="513.5" width="1.5" height="1.9" fill="#c5262f"/>
<rect x="694.15" y="513.5" width="1.5" height="1.9" fill="#0b7f8d"/>
<rect x="696.72" y="513.6" width="1.5" height="1.9" fill="#c5262f"/>
<rect x="699.29" y="513.6" width="1.5" height="1.9" fill="#c5262f"/>
<rect x="701.86" y="513.6" width="1.5" height="1.9" fill="#0b7f8d"/>
<rect x="704.43" y="513.6" width="1.5" height="1.9" fill="#c5262f"/>
<rect x="707.00" y="513.5" width="1.5" height="1.9" fill="#0b7f8d"/>
<rect x="709.57" y="513.5" width="1.5" height="1.9" fill="#c5262f"/>
<rect x="712.14" y="513.5" width="1.5" height="1.9" fill="#c5262f"/>
<rect x="714.71" y="513.5" width="1.5" height="1.9" fill="#0b7f8d"/>
<rect x="717.28" y="513.5" width="1.5" height="1.9" fill="#0b7f8d"/>
<rect x="719.85" y="513.4" width="1.5" height="1.9" fill="#0b7f8d"/>
<rect x="722.42" y="513.4" width="1.5" height="1.9" fill="#0b7f8d"/>
<rect x="724.99" y="513.4" width="1.5" height="1.9" fill="#c5262f"/>
<rect x="727.56" y="513.4" width="1.5" height="1.9" fill="#0b7f8d"/>
<rect x="730.13" y="513.4" width="1.5" height="1.9" fill="#c5262f"/>
<rect x="732.70" y="513.3" width="1.5" height="1.9" fill="#0b7f8d"/>
<rect x="735.27" y="513.3" width="1.5" height="1.9" fill="#c5262f"/>
<rect x="737.84" y="513.3" width="1.5" height="1.9" fill="#c5262f"/>
<rect x="740.41" y="513.4" width="1.5" height="1.9" fill="#c5262f"/>
<rect x="742.98" y="513.5" width="1.5" height="1.9" fill="#c5262f"/>
<rect x="745.55" y="513.6" width="1.5" height="1.9" fill="#0b7f8d"/>
<rect x="748.12" y="513.7" width="1.5" height="1.9" fill="#c5262f"/>
<rect x="750.69" y="513.8" width="1.5" height="1.9" fill="#c5262f"/>
<rect x="753.26" y="514.0" width="1.5" height="1.9" fill="#0b7f8d"/>
<rect x="755.83" y="514.1" width="1.5" height="1.9" fill="#0b7f8d"/>
<rect x="758.40" y="514.2" width="1.5" height="1.9" fill="#c5262f"/>
<rect x="760.97" y="514.2" width="1.5" height="1.9" fill="#c5262f"/>
<rect x="763.54" y="514.3" width="1.5" height="1.9" fill="#c5262f"/>
<rect x="766.11" y="514.2" width="1.5" height="1.9" fill="#0b7f8d"/>
<rect x="768.68" y="514.2" width="1.5" height="1.9" fill="#0b7f8d"/>
<rect x="771.25" y="514.1" width="1.5" height="1.9" fill="#0b7f8d"/>
<rect x="773.82" y="514.0" width="1.5" height="1.9" fill="#0b7f8d"/>
<rect x="776.39" y="514.0" width="1.5" height="1.9" fill="#0b7f8d"/>
<rect x="778.96" y="513.9" width="1.5" height="1.9" fill="#0b7f8d"/>
<rect x="781.53" y="513.8" width="1.5" height="1.9" fill="#0b7f8d"/>
<rect x="784.10" y="513.7" width="1.5" height="1.9" fill="#0b7f8d"/>
<rect x="786.67" y="513.7" width="1.5" height="1.9" fill="#0b7f8d"/>
<rect x="789.24" y="513.6" width="1.5" height="1.9" fill="#c5262f"/>
<rect x="791.81" y="513.3" width="1.5" height="1.9" fill="#c5262f"/>
<rect x="794.38" y="513.1" width="1.5" height="1.9" fill="#0b7f8d"/>
<rect x="796.95" y="512.8" width="1.5" height="1.9" fill="#0b7f8d"/>
<rect x="799.52" y="512.6" width="1.5" height="1.9" fill="#0b7f8d"/>
<rect x="802.09" y="512.3" width="1.5" height="1.9" fill="#0b7f8d"/>
<rect x="804.66" y="512.0" width="1.5" height="1.9" fill="#0b7f8d"/>
<rect x="807.23" y="511.7" width="1.5" height="1.9" fill="#0b7f8d"/>
<rect x="809.80" y="511.4" width="1.5" height="1.9" fill="#0b7f8d"/>
<rect x="812.37" y="511.1" width="1.5" height="1.9" fill="#0b7f8d"/>
<rect x="814.94" y="510.9" width="1.5" height="1.9" fill="#0b7f8d"/>
<rect x="817.51" y="510.9" width="1.5" height="1.9" fill="#c5262f"/>
<rect x="820.08" y="510.9" width="1.5" height="1.9" fill="#0b7f8d"/>
<rect x="822.65" y="510.9" width="1.5" height="1.9" fill="#0b7f8d"/>
<rect x="825.22" y="510.9" width="1.5" height="1.9" fill="#0b7f8d"/>
<rect x="827.79" y="510.9" width="1.5" height="1.9" fill="#0b7f8d"/>
<rect x="830.36" y="511.1" width="1.5" height="1.9" fill="#0b7f8d"/>
<rect x="832.93" y="511.4" width="1.5" height="1.9" fill="#c5262f"/>
<rect x="835.50" y="511.4" width="1.5" height="1.9" fill="#c5262f"/>
<rect x="838.07" y="511.0" width="1.5" height="1.9" fill="#c5262f"/>
<rect x="840.64" y="510.6" width="1.5" height="1.9" fill="#0b7f8d"/>
<rect x="843.21" y="510.3" width="1.5" height="1.9" fill="#0b7f8d"/>
<rect x="845.78" y="510.4" width="1.5" height="1.9" fill="#c5262f"/>
<rect x="848.35" y="510.9" width="1.5" height="1.9" fill="#c5262f"/>
<rect x="850.92" y="510.8" width="1.5" height="1.9" fill="#c5262f"/>
<rect x="853.49" y="510.5" width="1.5" height="1.9" fill="#0b7f8d"/>
<rect x="856.06" y="510.1" width="1.5" height="1.9" fill="#0b7f8d"/>
<rect x="858.63" y="509.7" width="1.5" height="1.9" fill="#0b7f8d"/>
<rect x="861.20" y="509.3" width="1.5" height="1.9" fill="#0b7f8d"/>
<rect x="863.77" y="509.0" width="1.5" height="1.9" fill="#0b7f8d"/>
<rect x="866.34" y="508.7" width="1.5" height="1.9" fill="#c5262f"/>
<rect x="868.91" y="508.3" width="1.5" height="1.9" fill="#0b7f8d"/>
<rect x="871.48" y="508.1" width="1.5" height="1.9" fill="#0b7f8d"/>
<rect x="874.05" y="508.0" width="1.5" height="1.9" fill="#0b7f8d"/>
<rect x="876.62" y="507.8" width="1.5" height="1.9" fill="#0b7f8d"/>
<rect x="879.19" y="507.6" width="1.5" height="1.9" fill="#0b7f8d"/>
<rect x="881.76" y="507.3" width="1.5" height="1.9" fill="#0b7f8d"/>
<rect x="884.33" y="507.1" width="1.5" height="1.9" fill="#0b7f8d"/>
<rect x="886.90" y="506.8" width="1.5" height="1.9" fill="#0b7f8d"/>
<rect x="889.47" y="506.6" width="1.5" height="1.9" fill="#c5262f"/>
<rect x="892.04" y="506.4" width="1.5" height="1.9" fill="#0b7f8d"/>
<rect x="894.61" y="506.4" width="1.5" height="1.9" fill="#0b7f8d"/>
<rect x="897.18" y="506.4" width="1.5" height="1.9" fill="#0b7f8d"/>
<rect x="899.75" y="506.4" width="1.5" height="1.9" fill="#0b7f8d"/>
<rect x="902.32" y="506.4" width="1.5" height="1.9" fill="#c5262f"/>
<rect x="904.89" y="506.4" width="1.5" height="1.9" fill="#c5262f"/>
<rect x="907.46" y="506.2" width="1.5" height="1.9" fill="#0b7f8d"/>
<rect x="910.03" y="506.3" width="1.5" height="1.9" fill="#c5262f"/>
<rect x="912.60" y="507.1" width="1.5" height="1.9" fill="#c5262f"/>
<rect x="915.17" y="507.7" width="1.5" height="1.9" fill="#0b7f8d"/>
<rect x="917.74" y="507.9" width="1.5" height="1.9" fill="#c5262f"/>
<rect x="920.31" y="508.1" width="1.5" height="1.9" fill="#c5262f"/>
<rect x="922.88" y="508.1" width="1.5" height="1.9" fill="#c5262f"/>
<rect x="925.45" y="508.1" width="1.5" height="1.9" fill="#0b7f8d"/>
<rect x="928.02" y="508.1" width="1.5" height="1.9" fill="#c5262f"/>
<rect x="930.59" y="508.1" width="1.5" height="1.9" fill="#c5262f"/>
<rect x="933.16" y="508.1" width="1.5" height="1.9" fill="#c5262f"/>
<rect x="935.73" y="508.1" width="1.5" height="1.9" fill="#0b7f8d"/>
<rect x="938.30" y="508.2" width="1.5" height="1.9" fill="#c5262f"/>
<rect x="940.87" y="508.3" width="1.5" height="1.9" fill="#c5262f"/>
<rect x="943.44" y="508.4" width="1.5" height="1.9" fill="#c5262f"/>
<rect x="946.01" y="508.1" width="1.5" height="1.9" fill="#0b7f8d"/>
<rect x="948.58" y="507.7" width="1.5" height="1.9" fill="#c5262f"/>
<rect x="951.15" y="507.4" width="1.5" height="1.9" fill="#0b7f8d"/>
<rect x="953.72" y="507.2" width="1.5" height="1.9" fill="#0b7f8d"/>
<rect x="956.29" y="506.9" width="1.5" height="1.9" fill="#0b7f8d"/>
<rect x="958.86" y="506.6" width="1.5" height="1.9" fill="#0b7f8d"/>
<rect x="961.43" y="506.5" width="1.5" height="1.9" fill="#0b7f8d"/>
<rect x="964.00" y="506.3" width="1.5" height="1.9" fill="#c5262f"/>
<rect x="966.57" y="506.1" width="1.5" height="1.9" fill="#0b7f8d"/>
<rect x="969.14" y="506.0" width="1.5" height="1.9" fill="#0b7f8d"/>
<rect x="971.71" y="505.8" width="1.5" height="1.9" fill="#0b7f8d"/>
</g>
<line x1="760.6" x2="760.6" y1="498.7" y2="525.4" stroke="#7a7a7a" stroke-width="1.3"/>
<rect x="759.2" y="504.6" width="2.8" height="15.6" rx="1.2" fill="#8a8a8a"/>
<line x1="975.4" x2="975.4" y1="498.7" y2="525.4" stroke="#7a7a7a" stroke-width="1.3"/>
<rect x="974.0" y="504.6" width="2.8" height="15.6" rx="1.2" fill="#8a8a8a"/>
<rect x="0.5" y="500.3" width="9.3" height="9.4" fill="#fff"/>
<path d="M2.7 502.7l4.8 4.8m0 -4.8l-4.8 4.8" stroke="#787878" stroke-width="1.35" fill="none"/>
<path d="M984 540.2V545H979.2Z" fill="#8a8a8a"/>
</svg>
</body></html>
